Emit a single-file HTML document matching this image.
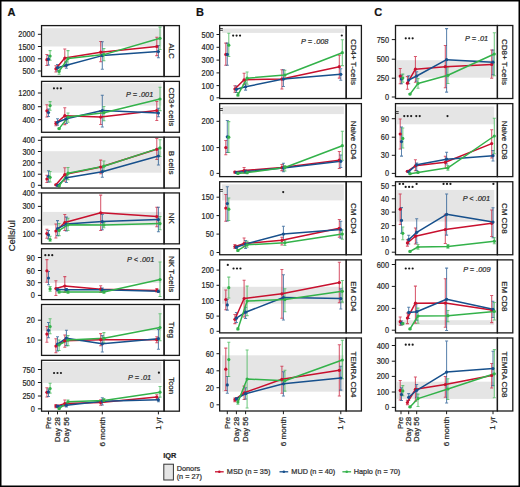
<!DOCTYPE html>
<html><head><meta charset="utf-8"><style>html,body{margin:0;padding:0;background:#fff;}svg{display:block;}text{font-family:'Liberation Sans',sans-serif;stroke:#2a2a2a;stroke-width:0.22px;stroke-linejoin:round;}</style></head>
<body><svg width="520" height="487" viewBox="0 0 520 487">
<rect x="0" y="0" width="520" height="487" fill="#fff"/>
<rect x="42.9" y="28.2" width="118.5" height="18.3" fill="#e5e5e5"/>
<clipPath id="cA0"><rect x="41.55" y="25.6" width="122.55" height="50.9"/></clipPath>
<g clip-path="url(#cA0)">
<path d="M46.9 54.4V65.4M45.4 54.4H48.4M45.4 65.4H48.4" stroke="#c8102e" stroke-opacity="0.7" stroke-width="1.05" fill="none"/>
<path d="M55.9 65.8V72M54.4 65.8H57.4M54.4 72H57.4" stroke="#c8102e" stroke-opacity="0.7" stroke-width="1.05" fill="none"/>
<path d="M64.8 49V66.6M63.3 49H66.3M63.3 66.6H66.3" stroke="#c8102e" stroke-opacity="0.7" stroke-width="1.05" fill="none"/>
<path d="M100.7 41.4V61.7M99.2 41.4H102.2M99.2 61.7H102.2" stroke="#c8102e" stroke-opacity="0.7" stroke-width="1.05" fill="none"/>
<path d="M156.8 37.3V55.6M155.3 37.3H158.3M155.3 55.6H158.3" stroke="#c8102e" stroke-opacity="0.7" stroke-width="1.05" fill="none"/>
<path d="M48.5 55.4V65M47 55.4H50M47 65H50" stroke="#17508c" stroke-opacity="0.7" stroke-width="1.05" fill="none"/>
<path d="M57.5 64.5V71M56 64.5H59M56 71H59" stroke="#17508c" stroke-opacity="0.7" stroke-width="1.05" fill="none"/>
<path d="M66.4 61.8V68.2M64.9 61.8H67.9M64.9 68.2H67.9" stroke="#17508c" stroke-opacity="0.7" stroke-width="1.05" fill="none"/>
<path d="M102.3 41.8V69.3M100.8 41.8H103.8M100.8 69.3H103.8" stroke="#17508c" stroke-opacity="0.7" stroke-width="1.05" fill="none"/>
<path d="M158.4 45.4V57.7M156.9 45.4H159.9M156.9 57.7H159.9" stroke="#17508c" stroke-opacity="0.7" stroke-width="1.05" fill="none"/>
<path d="M50.1 50.6V60.2M48.6 50.6H51.6M48.6 60.2H51.6" stroke="#33b24a" stroke-opacity="0.7" stroke-width="1.05" fill="none"/>
<path d="M59.1 68.2V74.3M57.6 68.2H60.6M57.6 74.3H60.6" stroke="#33b24a" stroke-opacity="0.7" stroke-width="1.05" fill="none"/>
<path d="M68 50.6V65M66.5 50.6H69.5M66.5 65H69.5" stroke="#33b24a" stroke-opacity="0.7" stroke-width="1.05" fill="none"/>
<path d="M103.9 48.5V60.7M102.4 48.5H105.4M102.4 60.7H105.4" stroke="#33b24a" stroke-opacity="0.7" stroke-width="1.05" fill="none"/>
<path d="M160 27.1V49.5M158.5 27.1H161.5M158.5 49.5H161.5" stroke="#33b24a" stroke-opacity="0.7" stroke-width="1.05" fill="none"/>
<polyline points="55.9,68.8 64.8,58.1 100.7,52.2 156.8,46.5" stroke="#c8102e" stroke-width="1.5" fill="none" stroke-linejoin="round"/>
<polyline points="57.5,67.7 66.4,65.3 102.3,55.6 158.4,51.6" stroke="#17508c" stroke-width="1.5" fill="none" stroke-linejoin="round"/>
<polyline points="59.1,71.4 68,58.5 103.9,54.6 160,38.3" stroke="#33b24a" stroke-width="1.5" fill="none" stroke-linejoin="round"/>
<circle cx="46.9" cy="59.7" r="1.6" fill="#c8102e"/>
<circle cx="55.9" cy="68.8" r="1.6" fill="#c8102e"/>
<circle cx="64.8" cy="58.1" r="1.6" fill="#c8102e"/>
<circle cx="100.7" cy="52.2" r="1.6" fill="#c8102e"/>
<circle cx="156.8" cy="46.5" r="1.6" fill="#c8102e"/>
<circle cx="48.5" cy="59.2" r="1.6" fill="#17508c"/>
<circle cx="57.5" cy="67.7" r="1.6" fill="#17508c"/>
<circle cx="66.4" cy="65.3" r="1.6" fill="#17508c"/>
<circle cx="102.3" cy="55.6" r="1.6" fill="#17508c"/>
<circle cx="158.4" cy="51.6" r="1.6" fill="#17508c"/>
<circle cx="50.1" cy="56" r="1.6" fill="#33b24a"/>
<circle cx="59.1" cy="71.4" r="1.6" fill="#33b24a"/>
<circle cx="68" cy="58.5" r="1.6" fill="#33b24a"/>
<circle cx="103.9" cy="54.6" r="1.6" fill="#33b24a"/>
<circle cx="160" cy="38.3" r="1.6" fill="#33b24a"/>
</g>
<rect x="41.55" y="25.6" width="122.55" height="50.9" fill="none" stroke="#1a1a1a" stroke-width="1.3"/>
<rect x="164.1" y="25.6" width="15.3" height="50.9" fill="none" stroke="#1a1a1a" stroke-width="1.3"/>
<text transform="translate(168.85,51.05) rotate(90)" font-size="8.0" text-anchor="middle" fill="#222" font-family="'Liberation Sans', sans-serif">ALC</text>
<path d="M37.9 34.3H41.55" stroke="#1a1a1a" stroke-width="1"/>
<text transform="translate(34.8,37.3) scale(0.86,1)" font-size="8.6" text-anchor="end" fill="#262626" font-family="'Liberation Sans', sans-serif">2000</text>
<path d="M37.9 46.5H41.55" stroke="#1a1a1a" stroke-width="1"/>
<text transform="translate(34.8,49.5) scale(0.86,1)" font-size="8.6" text-anchor="end" fill="#262626" font-family="'Liberation Sans', sans-serif">1500</text>
<path d="M37.9 58.8H41.55" stroke="#1a1a1a" stroke-width="1"/>
<text transform="translate(34.8,61.8) scale(0.86,1)" font-size="8.6" text-anchor="end" fill="#262626" font-family="'Liberation Sans', sans-serif">1000</text>
<path d="M37.9 71H41.55" stroke="#1a1a1a" stroke-width="1"/>
<text transform="translate(34.8,74) scale(0.86,1)" font-size="8.6" text-anchor="end" fill="#262626" font-family="'Liberation Sans', sans-serif">500</text>
<rect x="42.9" y="83.2" width="118.5" height="22.4" fill="#e5e5e5"/>
<clipPath id="cA1"><rect x="41.55" y="81.38" width="122.55" height="50.9"/></clipPath>
<g clip-path="url(#cA1)">
<path d="M46.9 104.7V116.9M45.4 104.7H48.4M45.4 116.9H48.4" stroke="#c8102e" stroke-opacity="0.7" stroke-width="1.05" fill="none"/>
<path d="M55.9 121.5V125.7M54.4 121.5H57.4M54.4 125.7H57.4" stroke="#c8102e" stroke-opacity="0.7" stroke-width="1.05" fill="none"/>
<path d="M64.8 107.7V124.6M63.3 107.7H66.3M63.3 124.6H66.3" stroke="#c8102e" stroke-opacity="0.7" stroke-width="1.05" fill="none"/>
<path d="M100.7 110.6V124.5M99.2 110.6H102.2M99.2 124.5H102.2" stroke="#c8102e" stroke-opacity="0.7" stroke-width="1.05" fill="none"/>
<path d="M156.8 101.4V120.4M155.3 101.4H158.3M155.3 120.4H158.3" stroke="#c8102e" stroke-opacity="0.7" stroke-width="1.05" fill="none"/>
<path d="M48.5 109V116.5M47 109H50M47 116.5H50" stroke="#17508c" stroke-opacity="0.7" stroke-width="1.05" fill="none"/>
<path d="M57.5 118.8V125.1M56 118.8H59M56 125.1H59" stroke="#17508c" stroke-opacity="0.7" stroke-width="1.05" fill="none"/>
<path d="M66.4 116.5V123.4M64.9 116.5H67.9M64.9 123.4H67.9" stroke="#17508c" stroke-opacity="0.7" stroke-width="1.05" fill="none"/>
<path d="M102.3 95.3V126.9M100.8 95.3H103.8M100.8 126.9H103.8" stroke="#17508c" stroke-opacity="0.7" stroke-width="1.05" fill="none"/>
<path d="M158.4 108.2V116.7M156.9 108.2H159.9M156.9 116.7H159.9" stroke="#17508c" stroke-opacity="0.7" stroke-width="1.05" fill="none"/>
<path d="M50.1 101.6V110.2M48.6 101.6H51.6M48.6 110.2H51.6" stroke="#33b24a" stroke-opacity="0.7" stroke-width="1.05" fill="none"/>
<path d="M59.1 128V129.2M57.6 128H60.6M57.6 129.2H60.6" stroke="#33b24a" stroke-opacity="0.7" stroke-width="1.05" fill="none"/>
<path d="M68 113V122.3M66.5 113H69.5M66.5 122.3H69.5" stroke="#33b24a" stroke-opacity="0.7" stroke-width="1.05" fill="none"/>
<path d="M103.9 106.5V120.8M102.4 106.5H105.4M102.4 120.8H105.4" stroke="#33b24a" stroke-opacity="0.7" stroke-width="1.05" fill="none"/>
<path d="M160 87.2V110.6M158.5 87.2H161.5M158.5 110.6H161.5" stroke="#33b24a" stroke-opacity="0.7" stroke-width="1.05" fill="none"/>
<polyline points="55.9,123.4 64.8,115.7 100.7,117.1 156.8,110.6" stroke="#c8102e" stroke-width="1.5" fill="none" stroke-linejoin="round"/>
<polyline points="57.5,122.3 66.4,118.8 102.3,110.6 158.4,113" stroke="#17508c" stroke-width="1.5" fill="none" stroke-linejoin="round"/>
<polyline points="59.1,128.6 68,117.1 103.9,112.7 160,99" stroke="#33b24a" stroke-width="1.5" fill="none" stroke-linejoin="round"/>
<circle cx="46.9" cy="110.8" r="1.6" fill="#c8102e"/>
<circle cx="55.9" cy="123.4" r="1.6" fill="#c8102e"/>
<circle cx="64.8" cy="115.7" r="1.6" fill="#c8102e"/>
<circle cx="100.7" cy="117.1" r="1.6" fill="#c8102e"/>
<circle cx="156.8" cy="110.6" r="1.6" fill="#c8102e"/>
<circle cx="48.5" cy="112.5" r="1.6" fill="#17508c"/>
<circle cx="57.5" cy="122.3" r="1.6" fill="#17508c"/>
<circle cx="66.4" cy="118.8" r="1.6" fill="#17508c"/>
<circle cx="102.3" cy="110.6" r="1.6" fill="#17508c"/>
<circle cx="158.4" cy="113" r="1.6" fill="#17508c"/>
<circle cx="50.1" cy="105.6" r="1.6" fill="#33b24a"/>
<circle cx="59.1" cy="128.6" r="1.6" fill="#33b24a"/>
<circle cx="68" cy="117.1" r="1.6" fill="#33b24a"/>
<circle cx="103.9" cy="112.7" r="1.6" fill="#33b24a"/>
<circle cx="160" cy="99" r="1.6" fill="#33b24a"/>
</g>
<circle cx="53.95" cy="88.3" r="1.1" fill="#1a1a1a"/>
<circle cx="57.4" cy="88.3" r="1.1" fill="#1a1a1a"/>
<circle cx="60.85" cy="88.3" r="1.1" fill="#1a1a1a"/>
<text transform="translate(153.3,97) scale(0.92,1)" font-size="8" font-style="italic" text-anchor="end" fill="#2a2a2a" font-family="'Liberation Sans', sans-serif">P = .001</text>
<rect x="41.55" y="81.38" width="122.55" height="50.9" fill="none" stroke="#1a1a1a" stroke-width="1.3"/>
<rect x="164.1" y="81.38" width="15.3" height="50.9" fill="none" stroke="#1a1a1a" stroke-width="1.3"/>
<text transform="translate(168.85,106.83) rotate(90)" font-size="8.0" text-anchor="middle" fill="#222" font-family="'Liberation Sans', sans-serif">CD3+ cells</text>
<path d="M37.9 93H41.55" stroke="#1a1a1a" stroke-width="1"/>
<text transform="translate(34.8,96) scale(0.86,1)" font-size="8.6" text-anchor="end" fill="#262626" font-family="'Liberation Sans', sans-serif">1200</text>
<path d="M37.9 106.7H41.55" stroke="#1a1a1a" stroke-width="1"/>
<text transform="translate(34.8,109.7) scale(0.86,1)" font-size="8.6" text-anchor="end" fill="#262626" font-family="'Liberation Sans', sans-serif">800</text>
<path d="M37.9 119.7H41.55" stroke="#1a1a1a" stroke-width="1"/>
<text transform="translate(34.8,122.7) scale(0.86,1)" font-size="8.6" text-anchor="end" fill="#262626" font-family="'Liberation Sans', sans-serif">400</text>
<rect x="42.9" y="151.2" width="118.5" height="21.5" fill="#e5e5e5"/>
<clipPath id="cA2"><rect x="41.55" y="137.16" width="122.55" height="50.9"/></clipPath>
<g clip-path="url(#cA2)">
<path d="M46.9 175.2V182.5M45.4 175.2H48.4M45.4 182.5H48.4" stroke="#c8102e" stroke-opacity="0.7" stroke-width="1.05" fill="none"/>
<path d="M55.9 184.3V185.3M54.4 184.3H57.4M54.4 185.3H57.4" stroke="#c8102e" stroke-opacity="0.7" stroke-width="1.05" fill="none"/>
<path d="M64.8 167.7V181.3M63.3 167.7H66.3M63.3 181.3H66.3" stroke="#c8102e" stroke-opacity="0.7" stroke-width="1.05" fill="none"/>
<path d="M100.7 160.1V173.7M99.2 160.1H102.2M99.2 173.7H102.2" stroke="#c8102e" stroke-opacity="0.7" stroke-width="1.05" fill="none"/>
<path d="M156.8 138.5V159.5M155.3 138.5H158.3M155.3 159.5H158.3" stroke="#c8102e" stroke-opacity="0.7" stroke-width="1.05" fill="none"/>
<path d="M48.5 170.7V181.9M47 170.7H50M47 181.9H50" stroke="#17508c" stroke-opacity="0.7" stroke-width="1.05" fill="none"/>
<path d="M57.5 185V186M56 185H59M56 186H59" stroke="#17508c" stroke-opacity="0.7" stroke-width="1.05" fill="none"/>
<path d="M66.4 175.5V182.5M64.9 175.5H67.9M64.9 182.5H67.9" stroke="#17508c" stroke-opacity="0.7" stroke-width="1.05" fill="none"/>
<path d="M102.3 166.6V177.2M100.8 166.6H103.8M100.8 177.2H103.8" stroke="#17508c" stroke-opacity="0.7" stroke-width="1.05" fill="none"/>
<path d="M158.4 148.3V165M156.9 148.3H159.9M156.9 165H159.9" stroke="#17508c" stroke-opacity="0.7" stroke-width="1.05" fill="none"/>
<path d="M50.1 171.5V181.9M48.6 171.5H51.6M48.6 181.9H51.6" stroke="#33b24a" stroke-opacity="0.7" stroke-width="1.05" fill="none"/>
<path d="M59.1 185.5V186.5M57.6 185.5H60.6M57.6 186.5H60.6" stroke="#33b24a" stroke-opacity="0.7" stroke-width="1.05" fill="none"/>
<path d="M68 167.5V179.6M66.5 167.5H69.5M66.5 179.6H69.5" stroke="#33b24a" stroke-opacity="0.7" stroke-width="1.05" fill="none"/>
<path d="M103.9 160.9V171.1M102.4 160.9H105.4M102.4 171.1H105.4" stroke="#33b24a" stroke-opacity="0.7" stroke-width="1.05" fill="none"/>
<path d="M160 139.7V156.4M158.5 139.7H161.5M158.5 156.4H161.5" stroke="#33b24a" stroke-opacity="0.7" stroke-width="1.05" fill="none"/>
<polyline points="55.9,184.8 64.8,174.6 100.7,167 156.8,149.3" stroke="#c8102e" stroke-width="1.5" fill="none" stroke-linejoin="round"/>
<polyline points="57.5,185.5 66.4,177.8 102.3,171.7 158.4,156" stroke="#17508c" stroke-width="1.5" fill="none" stroke-linejoin="round"/>
<polyline points="59.1,186 68,173.2 103.9,166.2 160,147.9" stroke="#33b24a" stroke-width="1.5" fill="none" stroke-linejoin="round"/>
<circle cx="46.9" cy="179" r="1.6" fill="#c8102e"/>
<circle cx="55.9" cy="184.8" r="1.6" fill="#c8102e"/>
<circle cx="64.8" cy="174.6" r="1.6" fill="#c8102e"/>
<circle cx="100.7" cy="167" r="1.6" fill="#c8102e"/>
<circle cx="156.8" cy="149.3" r="1.6" fill="#c8102e"/>
<circle cx="48.5" cy="176.5" r="1.6" fill="#17508c"/>
<circle cx="57.5" cy="185.5" r="1.6" fill="#17508c"/>
<circle cx="66.4" cy="177.8" r="1.6" fill="#17508c"/>
<circle cx="102.3" cy="171.7" r="1.6" fill="#17508c"/>
<circle cx="158.4" cy="156" r="1.6" fill="#17508c"/>
<circle cx="50.1" cy="177.3" r="1.6" fill="#33b24a"/>
<circle cx="59.1" cy="186" r="1.6" fill="#33b24a"/>
<circle cx="68" cy="173.2" r="1.6" fill="#33b24a"/>
<circle cx="103.9" cy="166.2" r="1.6" fill="#33b24a"/>
<circle cx="160" cy="147.9" r="1.6" fill="#33b24a"/>
</g>
<rect x="41.55" y="137.16" width="122.55" height="50.9" fill="none" stroke="#1a1a1a" stroke-width="1.3"/>
<rect x="164.1" y="137.16" width="15.3" height="50.9" fill="none" stroke="#1a1a1a" stroke-width="1.3"/>
<text transform="translate(168.85,162.61) rotate(90)" font-size="8.0" text-anchor="middle" fill="#222" font-family="'Liberation Sans', sans-serif">B cells</text>
<path d="M37.9 140.3H41.55" stroke="#1a1a1a" stroke-width="1"/>
<text transform="translate(34.8,143.3) scale(0.86,1)" font-size="8.6" text-anchor="end" fill="#262626" font-family="'Liberation Sans', sans-serif">400</text>
<path d="M37.9 151.5H41.55" stroke="#1a1a1a" stroke-width="1"/>
<text transform="translate(34.8,154.5) scale(0.86,1)" font-size="8.6" text-anchor="end" fill="#262626" font-family="'Liberation Sans', sans-serif">300</text>
<path d="M37.9 162.8H41.55" stroke="#1a1a1a" stroke-width="1"/>
<text transform="translate(34.8,165.8) scale(0.86,1)" font-size="8.6" text-anchor="end" fill="#262626" font-family="'Liberation Sans', sans-serif">200</text>
<path d="M37.9 174.2H41.55" stroke="#1a1a1a" stroke-width="1"/>
<text transform="translate(34.8,177.2) scale(0.86,1)" font-size="8.6" text-anchor="end" fill="#262626" font-family="'Liberation Sans', sans-serif">100</text>
<path d="M37.9 185.3H41.55" stroke="#1a1a1a" stroke-width="1"/>
<text transform="translate(34.8,188.3) scale(0.86,1)" font-size="8.6" text-anchor="end" fill="#262626" font-family="'Liberation Sans', sans-serif">0</text>
<rect x="42.9" y="211.9" width="118.5" height="13.6" fill="#e5e5e5"/>
<clipPath id="cA3"><rect x="41.55" y="192.94" width="122.55" height="50.9"/></clipPath>
<g clip-path="url(#cA3)">
<path d="M46.9 229.2V238.2M45.4 229.2H48.4M45.4 238.2H48.4" stroke="#c8102e" stroke-opacity="0.7" stroke-width="1.05" fill="none"/>
<path d="M55.9 224V237.9M54.4 224H57.4M54.4 237.9H57.4" stroke="#c8102e" stroke-opacity="0.7" stroke-width="1.05" fill="none"/>
<path d="M64.8 214.5V230.4M63.3 214.5H66.3M63.3 230.4H66.3" stroke="#c8102e" stroke-opacity="0.7" stroke-width="1.05" fill="none"/>
<path d="M100.7 195.1V230.4M99.2 195.1H102.2M99.2 230.4H102.2" stroke="#c8102e" stroke-opacity="0.7" stroke-width="1.05" fill="none"/>
<path d="M156.8 207.3V226.7M155.3 207.3H158.3M155.3 226.7H158.3" stroke="#c8102e" stroke-opacity="0.7" stroke-width="1.05" fill="none"/>
<path d="M48.5 230.4V239M47 230.4H50M47 239H50" stroke="#17508c" stroke-opacity="0.7" stroke-width="1.05" fill="none"/>
<path d="M57.5 220.6V235.6M56 220.6H59M56 235.6H59" stroke="#17508c" stroke-opacity="0.7" stroke-width="1.05" fill="none"/>
<path d="M66.4 217.1V231M64.9 217.1H67.9M64.9 231H67.9" stroke="#17508c" stroke-opacity="0.7" stroke-width="1.05" fill="none"/>
<path d="M102.3 214.5V229.7M100.8 214.5H103.8M100.8 229.7H103.8" stroke="#17508c" stroke-opacity="0.7" stroke-width="1.05" fill="none"/>
<path d="M158.4 207.3V231.8M156.9 207.3H159.9M156.9 231.8H159.9" stroke="#17508c" stroke-opacity="0.7" stroke-width="1.05" fill="none"/>
<path d="M50.1 236.2V241.3M48.6 236.2H51.6M48.6 241.3H51.6" stroke="#33b24a" stroke-opacity="0.7" stroke-width="1.05" fill="none"/>
<path d="M59.1 223.5V235.6M57.6 223.5H60.6M57.6 235.6H60.6" stroke="#33b24a" stroke-opacity="0.7" stroke-width="1.05" fill="none"/>
<path d="M68 218.3V230.4M66.5 218.3H69.5M66.5 230.4H69.5" stroke="#33b24a" stroke-opacity="0.7" stroke-width="1.05" fill="none"/>
<path d="M103.9 222.6V227.7M102.4 222.6H105.4M102.4 227.7H105.4" stroke="#33b24a" stroke-opacity="0.7" stroke-width="1.05" fill="none"/>
<path d="M160 216.5V229.7M158.5 216.5H161.5M158.5 229.7H161.5" stroke="#33b24a" stroke-opacity="0.7" stroke-width="1.05" fill="none"/>
<polyline points="55.9,231 64.8,222.5 100.7,212.8 156.8,216.5" stroke="#c8102e" stroke-width="1.5" fill="none" stroke-linejoin="round"/>
<polyline points="57.5,228.7 66.4,224.1 102.3,221.6 158.4,219.6" stroke="#17508c" stroke-width="1.5" fill="none" stroke-linejoin="round"/>
<polyline points="59.1,230.4 68,224.8 103.9,225 160,223.6" stroke="#33b24a" stroke-width="1.5" fill="none" stroke-linejoin="round"/>
<circle cx="46.9" cy="233.6" r="1.6" fill="#c8102e"/>
<circle cx="55.9" cy="231" r="1.6" fill="#c8102e"/>
<circle cx="64.8" cy="222.5" r="1.6" fill="#c8102e"/>
<circle cx="100.7" cy="212.8" r="1.6" fill="#c8102e"/>
<circle cx="156.8" cy="216.5" r="1.6" fill="#c8102e"/>
<circle cx="48.5" cy="234.8" r="1.6" fill="#17508c"/>
<circle cx="57.5" cy="228.7" r="1.6" fill="#17508c"/>
<circle cx="66.4" cy="224.1" r="1.6" fill="#17508c"/>
<circle cx="102.3" cy="221.6" r="1.6" fill="#17508c"/>
<circle cx="158.4" cy="219.6" r="1.6" fill="#17508c"/>
<circle cx="50.1" cy="239.6" r="1.6" fill="#33b24a"/>
<circle cx="59.1" cy="230.4" r="1.6" fill="#33b24a"/>
<circle cx="68" cy="224.8" r="1.6" fill="#33b24a"/>
<circle cx="103.9" cy="225" r="1.6" fill="#33b24a"/>
<circle cx="160" cy="223.6" r="1.6" fill="#33b24a"/>
</g>
<rect x="41.55" y="192.94" width="122.55" height="50.9" fill="none" stroke="#1a1a1a" stroke-width="1.3"/>
<rect x="164.1" y="192.94" width="15.3" height="50.9" fill="none" stroke="#1a1a1a" stroke-width="1.3"/>
<text transform="translate(168.85,218.39) rotate(90)" font-size="8.0" text-anchor="middle" fill="#222" font-family="'Liberation Sans', sans-serif">NK</text>
<path d="M37.9 192.9H41.55" stroke="#1a1a1a" stroke-width="1"/>
<text transform="translate(34.8,195.9) scale(0.86,1)" font-size="8.6" text-anchor="end" fill="#262626" font-family="'Liberation Sans', sans-serif">400</text>
<path d="M37.9 206.4H41.55" stroke="#1a1a1a" stroke-width="1"/>
<text transform="translate(34.8,209.4) scale(0.86,1)" font-size="8.6" text-anchor="end" fill="#262626" font-family="'Liberation Sans', sans-serif">300</text>
<path d="M37.9 220.2H41.55" stroke="#1a1a1a" stroke-width="1"/>
<text transform="translate(34.8,223.2) scale(0.86,1)" font-size="8.6" text-anchor="end" fill="#262626" font-family="'Liberation Sans', sans-serif">200</text>
<path d="M37.9 233.8H41.55" stroke="#1a1a1a" stroke-width="1"/>
<text transform="translate(34.8,236.8) scale(0.86,1)" font-size="8.6" text-anchor="end" fill="#262626" font-family="'Liberation Sans', sans-serif">100</text>
<rect x="42.9" y="250.2" width="118.5" height="32.8" fill="#e5e5e5"/>
<clipPath id="cA4"><rect x="41.55" y="248.72" width="122.55" height="50.9"/></clipPath>
<g clip-path="url(#cA4)">
<path d="M46.9 259.6V282.3M45.4 259.6H48.4M45.4 282.3H48.4" stroke="#c8102e" stroke-opacity="0.7" stroke-width="1.05" fill="none"/>
<path d="M55.9 280.8V295.4M54.4 280.8H57.4M54.4 295.4H57.4" stroke="#c8102e" stroke-opacity="0.7" stroke-width="1.05" fill="none"/>
<path d="M64.8 276.6V292.5M63.3 276.6H66.3M63.3 292.5H66.3" stroke="#c8102e" stroke-opacity="0.7" stroke-width="1.05" fill="none"/>
<path d="M100.7 285.7V292.5M99.2 285.7H102.2M99.2 292.5H102.2" stroke="#c8102e" stroke-opacity="0.7" stroke-width="1.05" fill="none"/>
<path d="M156.8 288.4V291.9M155.3 288.4H158.3M155.3 291.9H158.3" stroke="#c8102e" stroke-opacity="0.7" stroke-width="1.05" fill="none"/>
<path d="M48.5 271.4V284.7M47 271.4H50M47 284.7H50" stroke="#17508c" stroke-opacity="0.7" stroke-width="1.05" fill="none"/>
<path d="M57.5 288V291M56 288H59M56 291H59" stroke="#17508c" stroke-opacity="0.7" stroke-width="1.05" fill="none"/>
<path d="M66.4 288.5V291M64.9 288.5H67.9M64.9 291H67.9" stroke="#17508c" stroke-opacity="0.7" stroke-width="1.05" fill="none"/>
<path d="M102.3 288V291.5M100.8 288H103.8M100.8 291.5H103.8" stroke="#17508c" stroke-opacity="0.7" stroke-width="1.05" fill="none"/>
<path d="M158.4 290V292.5M156.9 290H159.9M156.9 292.5H159.9" stroke="#17508c" stroke-opacity="0.7" stroke-width="1.05" fill="none"/>
<path d="M50.1 286.4V291.2M48.6 286.4H51.6M48.6 291.2H51.6" stroke="#33b24a" stroke-opacity="0.7" stroke-width="1.05" fill="none"/>
<path d="M59.1 290.5V293M57.6 290.5H60.6M57.6 293H60.6" stroke="#33b24a" stroke-opacity="0.7" stroke-width="1.05" fill="none"/>
<path d="M68 290.8V293.2M66.5 290.8H69.5M66.5 293.2H69.5" stroke="#33b24a" stroke-opacity="0.7" stroke-width="1.05" fill="none"/>
<path d="M103.9 290.5V293.2M102.4 290.5H105.4M102.4 293.2H105.4" stroke="#33b24a" stroke-opacity="0.7" stroke-width="1.05" fill="none"/>
<path d="M160 261.9V296.5M158.5 261.9H161.5M158.5 296.5H161.5" stroke="#33b24a" stroke-opacity="0.7" stroke-width="1.05" fill="none"/>
<polyline points="55.9,288.5 64.8,286 100.7,289.2 156.8,290.4" stroke="#c8102e" stroke-width="1.5" fill="none" stroke-linejoin="round"/>
<polyline points="57.5,289.6 66.4,289.7 102.3,289.8 158.4,291.3" stroke="#17508c" stroke-width="1.5" fill="none" stroke-linejoin="round"/>
<polyline points="59.1,291.9 68,292 103.9,291.9 160,279.6" stroke="#33b24a" stroke-width="1.5" fill="none" stroke-linejoin="round"/>
<circle cx="46.9" cy="270.8" r="1.6" fill="#c8102e"/>
<circle cx="55.9" cy="288.5" r="1.6" fill="#c8102e"/>
<circle cx="64.8" cy="286" r="1.6" fill="#c8102e"/>
<circle cx="100.7" cy="289.2" r="1.6" fill="#c8102e"/>
<circle cx="156.8" cy="290.4" r="1.6" fill="#c8102e"/>
<circle cx="48.5" cy="278" r="1.6" fill="#17508c"/>
<circle cx="57.5" cy="289.6" r="1.6" fill="#17508c"/>
<circle cx="66.4" cy="289.7" r="1.6" fill="#17508c"/>
<circle cx="102.3" cy="289.8" r="1.6" fill="#17508c"/>
<circle cx="158.4" cy="291.3" r="1.6" fill="#17508c"/>
<circle cx="50.1" cy="288.9" r="1.6" fill="#33b24a"/>
<circle cx="59.1" cy="291.9" r="1.6" fill="#33b24a"/>
<circle cx="68" cy="292" r="1.6" fill="#33b24a"/>
<circle cx="103.9" cy="291.9" r="1.6" fill="#33b24a"/>
<circle cx="160" cy="279.6" r="1.6" fill="#33b24a"/>
</g>
<circle cx="45.35" cy="255.2" r="1.1" fill="#1a1a1a"/>
<circle cx="48.8" cy="255.2" r="1.1" fill="#1a1a1a"/>
<circle cx="52.25" cy="255.2" r="1.1" fill="#1a1a1a"/>
<text transform="translate(154.3,261.5) scale(0.92,1)" font-size="8" font-style="italic" text-anchor="end" fill="#2a2a2a" font-family="'Liberation Sans', sans-serif">P &lt; .001</text>
<rect x="41.55" y="248.72" width="122.55" height="50.9" fill="none" stroke="#1a1a1a" stroke-width="1.3"/>
<rect x="164.1" y="248.72" width="15.3" height="50.9" fill="none" stroke="#1a1a1a" stroke-width="1.3"/>
<text transform="translate(168.85,274.17) rotate(90)" font-size="8.0" text-anchor="middle" fill="#222" font-family="'Liberation Sans', sans-serif">NK T-cells</text>
<path d="M37.9 257.5H41.55" stroke="#1a1a1a" stroke-width="1"/>
<text transform="translate(34.8,260.5) scale(0.86,1)" font-size="8.6" text-anchor="end" fill="#262626" font-family="'Liberation Sans', sans-serif">90</text>
<path d="M37.9 270.5H41.55" stroke="#1a1a1a" stroke-width="1"/>
<text transform="translate(34.8,273.5) scale(0.86,1)" font-size="8.6" text-anchor="end" fill="#262626" font-family="'Liberation Sans', sans-serif">60</text>
<path d="M37.9 282.7H41.55" stroke="#1a1a1a" stroke-width="1"/>
<text transform="translate(34.8,285.7) scale(0.86,1)" font-size="8.6" text-anchor="end" fill="#262626" font-family="'Liberation Sans', sans-serif">30</text>
<path d="M37.9 295.4H41.55" stroke="#1a1a1a" stroke-width="1"/>
<text transform="translate(34.8,298.4) scale(0.86,1)" font-size="8.6" text-anchor="end" fill="#262626" font-family="'Liberation Sans', sans-serif">0</text>
<rect x="42.9" y="306.3" width="118.5" height="24.4" fill="#e5e5e5"/>
<clipPath id="cA5"><rect x="41.55" y="304.5" width="122.55" height="50.9"/></clipPath>
<g clip-path="url(#cA5)">
<path d="M46.9 326.5V342.2M45.4 326.5H48.4M45.4 342.2H48.4" stroke="#c8102e" stroke-opacity="0.7" stroke-width="1.05" fill="none"/>
<path d="M55.9 338.7V352.8M54.4 338.7H57.4M54.4 352.8H57.4" stroke="#c8102e" stroke-opacity="0.7" stroke-width="1.05" fill="none"/>
<path d="M64.8 334.9V347.2M63.3 334.9H66.3M63.3 347.2H66.3" stroke="#c8102e" stroke-opacity="0.7" stroke-width="1.05" fill="none"/>
<path d="M100.7 333.6V345.8M99.2 333.6H102.2M99.2 345.8H102.2" stroke="#c8102e" stroke-opacity="0.7" stroke-width="1.05" fill="none"/>
<path d="M156.8 336.7V342.8M155.3 336.7H158.3M155.3 342.8H158.3" stroke="#c8102e" stroke-opacity="0.7" stroke-width="1.05" fill="none"/>
<path d="M48.5 322.5V337.8M47 322.5H50M47 337.8H50" stroke="#17508c" stroke-opacity="0.7" stroke-width="1.05" fill="none"/>
<path d="M57.5 336.8V351M56 336.8H59M56 351H59" stroke="#17508c" stroke-opacity="0.7" stroke-width="1.05" fill="none"/>
<path d="M66.4 330.3V345.6M64.9 330.3H67.9M64.9 345.6H67.9" stroke="#17508c" stroke-opacity="0.7" stroke-width="1.05" fill="none"/>
<path d="M102.3 335.6V352M100.8 335.6H103.8M100.8 352H103.8" stroke="#17508c" stroke-opacity="0.7" stroke-width="1.05" fill="none"/>
<path d="M158.4 329.5V349.3M156.9 329.5H159.9M156.9 349.3H159.9" stroke="#17508c" stroke-opacity="0.7" stroke-width="1.05" fill="none"/>
<path d="M50.1 318.7V333.7M48.6 318.7H51.6M48.6 333.7H51.6" stroke="#33b24a" stroke-opacity="0.7" stroke-width="1.05" fill="none"/>
<path d="M59.1 340V350.5M57.6 340H60.6M57.6 350.5H60.6" stroke="#33b24a" stroke-opacity="0.7" stroke-width="1.05" fill="none"/>
<path d="M68 335.5V345.6M66.5 335.5H69.5M66.5 345.6H69.5" stroke="#33b24a" stroke-opacity="0.7" stroke-width="1.05" fill="none"/>
<path d="M103.9 332.6V342.8M102.4 332.6H105.4M102.4 342.8H105.4" stroke="#33b24a" stroke-opacity="0.7" stroke-width="1.05" fill="none"/>
<path d="M160 313.8V340.7M158.5 313.8H161.5M158.5 340.7H161.5" stroke="#33b24a" stroke-opacity="0.7" stroke-width="1.05" fill="none"/>
<polyline points="55.9,346.1 64.8,340.8 100.7,339.7 156.8,339.7" stroke="#c8102e" stroke-width="1.5" fill="none" stroke-linejoin="round"/>
<polyline points="57.5,344.1 66.4,338.2 102.3,343.8 158.4,338.7" stroke="#17508c" stroke-width="1.5" fill="none" stroke-linejoin="round"/>
<polyline points="59.1,344.9 68,340 103.9,338.3 160,327.5" stroke="#33b24a" stroke-width="1.5" fill="none" stroke-linejoin="round"/>
<circle cx="46.9" cy="334.1" r="1.6" fill="#c8102e"/>
<circle cx="55.9" cy="346.1" r="1.6" fill="#c8102e"/>
<circle cx="64.8" cy="340.8" r="1.6" fill="#c8102e"/>
<circle cx="100.7" cy="339.7" r="1.6" fill="#c8102e"/>
<circle cx="156.8" cy="339.7" r="1.6" fill="#c8102e"/>
<circle cx="48.5" cy="330.3" r="1.6" fill="#17508c"/>
<circle cx="57.5" cy="344.1" r="1.6" fill="#17508c"/>
<circle cx="66.4" cy="338.2" r="1.6" fill="#17508c"/>
<circle cx="102.3" cy="343.8" r="1.6" fill="#17508c"/>
<circle cx="158.4" cy="338.7" r="1.6" fill="#17508c"/>
<circle cx="50.1" cy="326.5" r="1.6" fill="#33b24a"/>
<circle cx="59.1" cy="344.9" r="1.6" fill="#33b24a"/>
<circle cx="68" cy="340" r="1.6" fill="#33b24a"/>
<circle cx="103.9" cy="338.3" r="1.6" fill="#33b24a"/>
<circle cx="160" cy="327.5" r="1.6" fill="#33b24a"/>
</g>
<rect x="41.55" y="304.5" width="122.55" height="50.9" fill="none" stroke="#1a1a1a" stroke-width="1.3"/>
<rect x="164.1" y="304.5" width="15.3" height="50.9" fill="none" stroke="#1a1a1a" stroke-width="1.3"/>
<text transform="translate(168.85,329.95) rotate(90)" font-size="8.0" text-anchor="middle" fill="#222" font-family="'Liberation Sans', sans-serif">Treg</text>
<path d="M37.9 320.2H41.55" stroke="#1a1a1a" stroke-width="1"/>
<text transform="translate(34.8,323.2) scale(0.86,1)" font-size="8.6" text-anchor="end" fill="#262626" font-family="'Liberation Sans', sans-serif">20</text>
<path d="M37.9 340.1H41.55" stroke="#1a1a1a" stroke-width="1"/>
<text transform="translate(34.8,343.1) scale(0.86,1)" font-size="8.6" text-anchor="end" fill="#262626" font-family="'Liberation Sans', sans-serif">10</text>
<rect x="42.9" y="362" width="118.5" height="21" fill="#e5e5e5"/>
<clipPath id="cA6"><rect x="41.55" y="360.28" width="122.55" height="50.9"/></clipPath>
<g clip-path="url(#cA6)">
<path d="M46.9 387.7V396.9M45.4 387.7H48.4M45.4 396.9H48.4" stroke="#c8102e" stroke-opacity="0.7" stroke-width="1.05" fill="none"/>
<path d="M55.9 404.6V407.7M54.4 404.6H57.4M54.4 407.7H57.4" stroke="#c8102e" stroke-opacity="0.7" stroke-width="1.05" fill="none"/>
<path d="M64.8 400V406M63.3 400H66.3M63.3 406H66.3" stroke="#c8102e" stroke-opacity="0.7" stroke-width="1.05" fill="none"/>
<path d="M100.7 399.8V405.3M99.2 399.8H102.2M99.2 405.3H102.2" stroke="#c8102e" stroke-opacity="0.7" stroke-width="1.05" fill="none"/>
<path d="M156.8 394.7V399.8M155.3 394.7H158.3M155.3 399.8H158.3" stroke="#c8102e" stroke-opacity="0.7" stroke-width="1.05" fill="none"/>
<path d="M48.5 389V396.5M47 389H50M47 396.5H50" stroke="#17508c" stroke-opacity="0.7" stroke-width="1.05" fill="none"/>
<path d="M57.5 405V407.5M56 405H59M56 407.5H59" stroke="#17508c" stroke-opacity="0.7" stroke-width="1.05" fill="none"/>
<path d="M66.4 403.5V407M64.9 403.5H67.9M64.9 407H67.9" stroke="#17508c" stroke-opacity="0.7" stroke-width="1.05" fill="none"/>
<path d="M102.3 397.7V404.9M100.8 397.7H103.8M100.8 404.9H103.8" stroke="#17508c" stroke-opacity="0.7" stroke-width="1.05" fill="none"/>
<path d="M158.4 397.7V401.8M156.9 397.7H159.9M156.9 401.8H159.9" stroke="#17508c" stroke-opacity="0.7" stroke-width="1.05" fill="none"/>
<path d="M50.1 383.3V393.1M48.6 383.3H51.6M48.6 393.1H51.6" stroke="#33b24a" stroke-opacity="0.7" stroke-width="1.05" fill="none"/>
<path d="M59.1 408V409.2M57.6 408H60.6M57.6 409.2H60.6" stroke="#33b24a" stroke-opacity="0.7" stroke-width="1.05" fill="none"/>
<path d="M68 400V404.6M66.5 400H69.5M66.5 404.6H69.5" stroke="#33b24a" stroke-opacity="0.7" stroke-width="1.05" fill="none"/>
<path d="M103.9 398.5V402.5M102.4 398.5H105.4M102.4 402.5H105.4" stroke="#33b24a" stroke-opacity="0.7" stroke-width="1.05" fill="none"/>
<path d="M160 386.5V397.1M158.5 386.5H161.5M158.5 397.1H161.5" stroke="#33b24a" stroke-opacity="0.7" stroke-width="1.05" fill="none"/>
<polyline points="55.9,406.1 64.8,403.6 100.7,402.4 156.8,397.1" stroke="#c8102e" stroke-width="1.5" fill="none" stroke-linejoin="round"/>
<polyline points="57.5,406.3 66.4,405.2 102.3,401.2 158.4,399.8" stroke="#17508c" stroke-width="1.5" fill="none" stroke-linejoin="round"/>
<polyline points="59.1,408.6 68,401.8 103.9,400.4 160,392.2" stroke="#33b24a" stroke-width="1.5" fill="none" stroke-linejoin="round"/>
<circle cx="46.9" cy="392.3" r="1.6" fill="#c8102e"/>
<circle cx="55.9" cy="406.1" r="1.6" fill="#c8102e"/>
<circle cx="64.8" cy="403.6" r="1.6" fill="#c8102e"/>
<circle cx="100.7" cy="402.4" r="1.6" fill="#c8102e"/>
<circle cx="156.8" cy="397.1" r="1.6" fill="#c8102e"/>
<circle cx="48.5" cy="391.9" r="1.6" fill="#17508c"/>
<circle cx="57.5" cy="406.3" r="1.6" fill="#17508c"/>
<circle cx="66.4" cy="405.2" r="1.6" fill="#17508c"/>
<circle cx="102.3" cy="401.2" r="1.6" fill="#17508c"/>
<circle cx="158.4" cy="399.8" r="1.6" fill="#17508c"/>
<circle cx="50.1" cy="388.5" r="1.6" fill="#33b24a"/>
<circle cx="59.1" cy="408.6" r="1.6" fill="#33b24a"/>
<circle cx="68" cy="401.8" r="1.6" fill="#33b24a"/>
<circle cx="103.9" cy="400.4" r="1.6" fill="#33b24a"/>
<circle cx="160" cy="392.2" r="1.6" fill="#33b24a"/>
</g>
<circle cx="54.05" cy="373" r="1.1" fill="#1a1a1a"/>
<circle cx="57.5" cy="373" r="1.1" fill="#1a1a1a"/>
<circle cx="60.95" cy="373" r="1.1" fill="#1a1a1a"/>
<text transform="translate(151.2,380.2) scale(0.92,1)" font-size="8" font-style="italic" text-anchor="end" fill="#2a2a2a" font-family="'Liberation Sans', sans-serif">P = .01</text>
<circle cx="158.9" cy="372.7" r="1.1" fill="#1a1a1a"/>
<rect x="41.55" y="360.28" width="122.55" height="50.9" fill="none" stroke="#1a1a1a" stroke-width="1.3"/>
<rect x="164.1" y="360.28" width="15.3" height="50.9" fill="none" stroke="#1a1a1a" stroke-width="1.3"/>
<text transform="translate(168.85,385.73) rotate(90)" font-size="8.0" text-anchor="middle" fill="#222" font-family="'Liberation Sans', sans-serif">Tcon</text>
<path d="M37.9 369.5H41.55" stroke="#1a1a1a" stroke-width="1"/>
<text transform="translate(34.8,372.5) scale(0.86,1)" font-size="8.6" text-anchor="end" fill="#262626" font-family="'Liberation Sans', sans-serif">750</text>
<path d="M37.9 382.5H41.55" stroke="#1a1a1a" stroke-width="1"/>
<text transform="translate(34.8,385.5) scale(0.86,1)" font-size="8.6" text-anchor="end" fill="#262626" font-family="'Liberation Sans', sans-serif">500</text>
<path d="M37.9 396H41.55" stroke="#1a1a1a" stroke-width="1"/>
<text transform="translate(34.8,399) scale(0.86,1)" font-size="8.6" text-anchor="end" fill="#262626" font-family="'Liberation Sans', sans-serif">250</text>
<path d="M37.9 408.8H41.55" stroke="#1a1a1a" stroke-width="1"/>
<text transform="translate(34.8,411.8) scale(0.86,1)" font-size="8.6" text-anchor="end" fill="#262626" font-family="'Liberation Sans', sans-serif">0</text>
<rect x="222" y="28.5" width="121.8" height="4.4" fill="#e5e5e5"/>
<clipPath id="cB0"><rect x="219.65" y="25.5" width="126.55" height="73"/></clipPath>
<g clip-path="url(#cB0)">
<path d="M225.8 43.1V65.2M224.3 43.1H227.3M224.3 65.2H227.3" stroke="#c8102e" stroke-opacity="0.7" stroke-width="1.05" fill="none"/>
<path d="M234.9 85.8V92.2M233.4 85.8H236.4M233.4 92.2H236.4" stroke="#c8102e" stroke-opacity="0.7" stroke-width="1.05" fill="none"/>
<path d="M244.1 73.3V84.5M242.6 73.3H245.6M242.6 84.5H245.6" stroke="#c8102e" stroke-opacity="0.7" stroke-width="1.05" fill="none"/>
<path d="M281.9 69.8V88.9M280.4 69.8H283.4M280.4 88.9H283.4" stroke="#c8102e" stroke-opacity="0.7" stroke-width="1.05" fill="none"/>
<path d="M339.3 55.2V78.1M337.8 55.2H340.8M337.8 78.1H340.8" stroke="#c8102e" stroke-opacity="0.7" stroke-width="1.05" fill="none"/>
<path d="M227.3 43.1V65.2M225.8 43.1H228.8M225.8 65.2H228.8" stroke="#17508c" stroke-opacity="0.7" stroke-width="1.05" fill="none"/>
<path d="M236.4 86V92.5M234.9 86H237.9M234.9 92.5H237.9" stroke="#17508c" stroke-opacity="0.7" stroke-width="1.05" fill="none"/>
<path d="M245.6 82.9V90.1M244.1 82.9H247.1M244.1 90.1H247.1" stroke="#17508c" stroke-opacity="0.7" stroke-width="1.05" fill="none"/>
<path d="M283.4 69.8V86.4M281.9 69.8H284.9M281.9 86.4H284.9" stroke="#17508c" stroke-opacity="0.7" stroke-width="1.05" fill="none"/>
<path d="M340.8 68.7V80.2M339.3 68.7H342.3M339.3 80.2H342.3" stroke="#17508c" stroke-opacity="0.7" stroke-width="1.05" fill="none"/>
<path d="M228.8 33.2V56.4M227.3 33.2H230.3M227.3 56.4H230.3" stroke="#33b24a" stroke-opacity="0.7" stroke-width="1.05" fill="none"/>
<path d="M237.9 92.5V96M236.4 92.5H239.4M236.4 96H239.4" stroke="#33b24a" stroke-opacity="0.7" stroke-width="1.05" fill="none"/>
<path d="M247.1 72V84.2M245.6 72H248.6M245.6 84.2H248.6" stroke="#33b24a" stroke-opacity="0.7" stroke-width="1.05" fill="none"/>
<path d="M284.9 70.2V79.1M283.4 70.2H286.4M283.4 79.1H286.4" stroke="#33b24a" stroke-opacity="0.7" stroke-width="1.05" fill="none"/>
<path d="M342.3 39.7V65.6M340.8 39.7H343.8M340.8 65.6H343.8" stroke="#33b24a" stroke-opacity="0.7" stroke-width="1.05" fill="none"/>
<polyline points="234.9,89 244.1,79.8 281.9,79.1 339.3,66.7" stroke="#c8102e" stroke-width="1.5" fill="none" stroke-linejoin="round"/>
<polyline points="236.4,89.3 245.6,86.8 283.4,79.1 340.8,74.3" stroke="#17508c" stroke-width="1.5" fill="none" stroke-linejoin="round"/>
<polyline points="237.9,94.9 247.1,78.2 284.9,75 342.3,52.7" stroke="#33b24a" stroke-width="1.5" fill="none" stroke-linejoin="round"/>
<circle cx="225.8" cy="54.4" r="1.6" fill="#c8102e"/>
<circle cx="234.9" cy="89" r="1.6" fill="#c8102e"/>
<circle cx="244.1" cy="79.8" r="1.6" fill="#c8102e"/>
<circle cx="281.9" cy="79.1" r="1.6" fill="#c8102e"/>
<circle cx="339.3" cy="66.7" r="1.6" fill="#c8102e"/>
<circle cx="227.3" cy="54.4" r="1.6" fill="#17508c"/>
<circle cx="236.4" cy="89.3" r="1.6" fill="#17508c"/>
<circle cx="245.6" cy="86.8" r="1.6" fill="#17508c"/>
<circle cx="283.4" cy="79.1" r="1.6" fill="#17508c"/>
<circle cx="340.8" cy="74.3" r="1.6" fill="#17508c"/>
<circle cx="228.8" cy="45.2" r="1.6" fill="#33b24a"/>
<circle cx="237.9" cy="94.9" r="1.6" fill="#33b24a"/>
<circle cx="247.1" cy="78.2" r="1.6" fill="#33b24a"/>
<circle cx="284.9" cy="75" r="1.6" fill="#33b24a"/>
<circle cx="342.3" cy="52.7" r="1.6" fill="#33b24a"/>
</g>
<circle cx="233.15" cy="35.6" r="1.1" fill="#1a1a1a"/>
<circle cx="236.6" cy="35.6" r="1.1" fill="#1a1a1a"/>
<circle cx="240.05" cy="35.6" r="1.1" fill="#1a1a1a"/>
<text transform="translate(328.4,44.1) scale(0.92,1)" font-size="8" font-style="italic" text-anchor="end" fill="#2a2a2a" font-family="'Liberation Sans', sans-serif">P = .008</text>
<circle cx="341.8" cy="35.5" r="1.1" fill="#1a1a1a"/>
<rect x="219.65" y="25.5" width="126.55" height="73" fill="none" stroke="#1a1a1a" stroke-width="1.3"/>
<rect x="346.2" y="25.5" width="15.2" height="73" fill="none" stroke="#1a1a1a" stroke-width="1.3"/>
<text transform="translate(350.9,62) rotate(90)" font-size="8.0" text-anchor="middle" fill="#222" font-family="'Liberation Sans', sans-serif">CD4+ T-cells</text>
<path d="M216.5 34.5H219.65" stroke="#1a1a1a" stroke-width="1"/>
<text transform="translate(213.9,37.5) scale(0.86,1)" font-size="8.6" text-anchor="end" fill="#262626" font-family="'Liberation Sans', sans-serif">500</text>
<path d="M216.5 47.3H219.65" stroke="#1a1a1a" stroke-width="1"/>
<text transform="translate(213.9,50.3) scale(0.86,1)" font-size="8.6" text-anchor="end" fill="#262626" font-family="'Liberation Sans', sans-serif">400</text>
<path d="M216.5 60.1H219.65" stroke="#1a1a1a" stroke-width="1"/>
<text transform="translate(213.9,63.1) scale(0.86,1)" font-size="8.6" text-anchor="end" fill="#262626" font-family="'Liberation Sans', sans-serif">300</text>
<path d="M216.5 72.9H219.65" stroke="#1a1a1a" stroke-width="1"/>
<text transform="translate(213.9,75.9) scale(0.86,1)" font-size="8.6" text-anchor="end" fill="#262626" font-family="'Liberation Sans', sans-serif">200</text>
<path d="M216.5 85.6H219.65" stroke="#1a1a1a" stroke-width="1"/>
<text transform="translate(213.9,88.6) scale(0.86,1)" font-size="8.6" text-anchor="end" fill="#262626" font-family="'Liberation Sans', sans-serif">100</text>
<path d="M216.5 97.8H219.65" stroke="#1a1a1a" stroke-width="1"/>
<text transform="translate(213.9,100.8) scale(0.86,1)" font-size="8.6" text-anchor="end" fill="#262626" font-family="'Liberation Sans', sans-serif">0</text>
<rect x="222" y="106.3" width="121.8" height="7.8" fill="#e5e5e5"/>
<clipPath id="cB1"><rect x="219.65" y="103.62" width="126.55" height="73"/></clipPath>
<g clip-path="url(#cB1)">
<path d="M225.8 140.4V154.8M224.3 140.4H227.3M224.3 154.8H227.3" stroke="#c8102e" stroke-opacity="0.7" stroke-width="1.05" fill="none"/>
<path d="M234.9 171.3V172.9M233.4 171.3H236.4M233.4 172.9H236.4" stroke="#c8102e" stroke-opacity="0.7" stroke-width="1.05" fill="none"/>
<path d="M244.1 167.5V173.1M242.6 167.5H245.6M242.6 173.1H245.6" stroke="#c8102e" stroke-opacity="0.7" stroke-width="1.05" fill="none"/>
<path d="M281.9 164.4V170.6M280.4 164.4H283.4M280.4 170.6H283.4" stroke="#c8102e" stroke-opacity="0.7" stroke-width="1.05" fill="none"/>
<path d="M339.3 151.5V168.5M337.8 151.5H340.8M337.8 168.5H340.8" stroke="#c8102e" stroke-opacity="0.7" stroke-width="1.05" fill="none"/>
<path d="M227.3 120.5V152.5M225.8 120.5H228.8M225.8 152.5H228.8" stroke="#17508c" stroke-opacity="0.7" stroke-width="1.05" fill="none"/>
<path d="M236.4 171.8V173.2M234.9 171.8H237.9M234.9 173.2H237.9" stroke="#17508c" stroke-opacity="0.7" stroke-width="1.05" fill="none"/>
<path d="M245.6 170V173M244.1 170H247.1M244.1 173H247.1" stroke="#17508c" stroke-opacity="0.7" stroke-width="1.05" fill="none"/>
<path d="M283.4 163.3V171.7M281.9 163.3H284.9M281.9 171.7H284.9" stroke="#17508c" stroke-opacity="0.7" stroke-width="1.05" fill="none"/>
<path d="M340.8 155V167.5M339.3 155H342.3M339.3 167.5H342.3" stroke="#17508c" stroke-opacity="0.7" stroke-width="1.05" fill="none"/>
<path d="M228.8 121.6V152.5M227.3 121.6H230.3M227.3 152.5H230.3" stroke="#33b24a" stroke-opacity="0.7" stroke-width="1.05" fill="none"/>
<path d="M237.9 172.8V174M236.4 172.8H239.4M236.4 174H239.4" stroke="#33b24a" stroke-opacity="0.7" stroke-width="1.05" fill="none"/>
<path d="M247.1 171.5V173.6M245.6 171.5H248.6M245.6 173.6H248.6" stroke="#33b24a" stroke-opacity="0.7" stroke-width="1.05" fill="none"/>
<path d="M284.9 165.4V171M283.4 165.4H286.4M283.4 171H286.4" stroke="#33b24a" stroke-opacity="0.7" stroke-width="1.05" fill="none"/>
<path d="M342.3 131.2V160.2M340.8 131.2H343.8M340.8 160.2H343.8" stroke="#33b24a" stroke-opacity="0.7" stroke-width="1.05" fill="none"/>
<polyline points="234.9,172.1 244.1,170.6 281.9,167.5 339.3,160.2" stroke="#c8102e" stroke-width="1.5" fill="none" stroke-linejoin="round"/>
<polyline points="236.4,172.5 245.6,171.6 283.4,168.1 340.8,161.3" stroke="#17508c" stroke-width="1.5" fill="none" stroke-linejoin="round"/>
<polyline points="237.9,173.4 247.1,172.6 284.9,167.5 342.3,145.7" stroke="#33b24a" stroke-width="1.5" fill="none" stroke-linejoin="round"/>
<circle cx="225.8" cy="147.6" r="1.6" fill="#c8102e"/>
<circle cx="234.9" cy="172.1" r="1.6" fill="#c8102e"/>
<circle cx="244.1" cy="170.6" r="1.6" fill="#c8102e"/>
<circle cx="281.9" cy="167.5" r="1.6" fill="#c8102e"/>
<circle cx="339.3" cy="160.2" r="1.6" fill="#c8102e"/>
<circle cx="227.3" cy="136.8" r="1.6" fill="#17508c"/>
<circle cx="236.4" cy="172.5" r="1.6" fill="#17508c"/>
<circle cx="245.6" cy="171.6" r="1.6" fill="#17508c"/>
<circle cx="283.4" cy="168.1" r="1.6" fill="#17508c"/>
<circle cx="340.8" cy="161.3" r="1.6" fill="#17508c"/>
<circle cx="228.8" cy="137.2" r="1.6" fill="#33b24a"/>
<circle cx="237.9" cy="173.4" r="1.6" fill="#33b24a"/>
<circle cx="247.1" cy="172.6" r="1.6" fill="#33b24a"/>
<circle cx="284.9" cy="167.5" r="1.6" fill="#33b24a"/>
<circle cx="342.3" cy="145.7" r="1.6" fill="#33b24a"/>
</g>
<rect x="219.65" y="103.62" width="126.55" height="73" fill="none" stroke="#1a1a1a" stroke-width="1.3"/>
<rect x="346.2" y="103.62" width="15.2" height="73" fill="none" stroke="#1a1a1a" stroke-width="1.3"/>
<text transform="translate(350.9,140.12) rotate(90)" font-size="8.0" text-anchor="middle" fill="#222" font-family="'Liberation Sans', sans-serif">Naive CD4</text>
<path d="M216.5 121.3H219.65" stroke="#1a1a1a" stroke-width="1"/>
<text transform="translate(213.9,124.3) scale(0.86,1)" font-size="8.6" text-anchor="end" fill="#262626" font-family="'Liberation Sans', sans-serif">200</text>
<path d="M216.5 147.6H219.65" stroke="#1a1a1a" stroke-width="1"/>
<text transform="translate(213.9,150.6) scale(0.86,1)" font-size="8.6" text-anchor="end" fill="#262626" font-family="'Liberation Sans', sans-serif">100</text>
<path d="M216.5 173.4H219.65" stroke="#1a1a1a" stroke-width="1"/>
<text transform="translate(213.9,176.4) scale(0.86,1)" font-size="8.6" text-anchor="end" fill="#262626" font-family="'Liberation Sans', sans-serif">0</text>
<rect x="222" y="184.3" width="121.8" height="16.1" fill="#e5e5e5"/>
<clipPath id="cB2"><rect x="219.65" y="181.75" width="126.55" height="73"/></clipPath>
<g clip-path="url(#cB2)">
<path d="M225.8 194.5V221.2M224.3 194.5H227.3M224.3 221.2H227.3" stroke="#c8102e" stroke-opacity="0.7" stroke-width="1.05" fill="none"/>
<path d="M234.9 244.5V248.5M233.4 244.5H236.4M233.4 248.5H236.4" stroke="#c8102e" stroke-opacity="0.7" stroke-width="1.05" fill="none"/>
<path d="M244.1 238V246.6M242.6 238H245.6M242.6 246.6H245.6" stroke="#c8102e" stroke-opacity="0.7" stroke-width="1.05" fill="none"/>
<path d="M281.9 237.2V244.9M280.4 237.2H283.4M280.4 244.9H283.4" stroke="#c8102e" stroke-opacity="0.7" stroke-width="1.05" fill="none"/>
<path d="M339.3 219.5V237.2M337.8 219.5H340.8M337.8 237.2H340.8" stroke="#c8102e" stroke-opacity="0.7" stroke-width="1.05" fill="none"/>
<path d="M227.3 186.8V220.9M225.8 186.8H228.8M225.8 220.9H228.8" stroke="#17508c" stroke-opacity="0.7" stroke-width="1.05" fill="none"/>
<path d="M236.4 246V248.5M234.9 246H237.9M234.9 248.5H237.9" stroke="#17508c" stroke-opacity="0.7" stroke-width="1.05" fill="none"/>
<path d="M245.6 240.5V248.5M244.1 240.5H247.1M244.1 248.5H247.1" stroke="#17508c" stroke-opacity="0.7" stroke-width="1.05" fill="none"/>
<path d="M283.4 226.2V240.3M281.9 226.2H284.9M281.9 240.3H284.9" stroke="#17508c" stroke-opacity="0.7" stroke-width="1.05" fill="none"/>
<path d="M340.8 221.2V238.2M339.3 221.2H342.3M339.3 238.2H342.3" stroke="#17508c" stroke-opacity="0.7" stroke-width="1.05" fill="none"/>
<path d="M228.8 198V220.4M227.3 198H230.3M227.3 220.4H230.3" stroke="#33b24a" stroke-opacity="0.7" stroke-width="1.05" fill="none"/>
<path d="M237.9 249.5V251.3M236.4 249.5H239.4M236.4 251.3H239.4" stroke="#33b24a" stroke-opacity="0.7" stroke-width="1.05" fill="none"/>
<path d="M247.1 241.3V247.2M245.6 241.3H248.6M245.6 247.2H248.6" stroke="#33b24a" stroke-opacity="0.7" stroke-width="1.05" fill="none"/>
<path d="M284.9 240.3V245.5M283.4 240.3H286.4M283.4 245.5H286.4" stroke="#33b24a" stroke-opacity="0.7" stroke-width="1.05" fill="none"/>
<path d="M342.3 229.9V239.3M340.8 229.9H343.8M340.8 239.3H343.8" stroke="#33b24a" stroke-opacity="0.7" stroke-width="1.05" fill="none"/>
<polyline points="234.9,246.6 244.1,243.5 281.9,240.3 339.3,228.3" stroke="#c8102e" stroke-width="1.5" fill="none" stroke-linejoin="round"/>
<polyline points="236.4,247.2 245.6,244 283.4,234.1 340.8,229.5" stroke="#17508c" stroke-width="1.5" fill="none" stroke-linejoin="round"/>
<polyline points="237.9,250.4 247.1,244.8 284.9,242.8 342.3,234.1" stroke="#33b24a" stroke-width="1.5" fill="none" stroke-linejoin="round"/>
<circle cx="225.8" cy="208.1" r="1.6" fill="#c8102e"/>
<circle cx="234.9" cy="246.6" r="1.6" fill="#c8102e"/>
<circle cx="244.1" cy="243.5" r="1.6" fill="#c8102e"/>
<circle cx="281.9" cy="240.3" r="1.6" fill="#c8102e"/>
<circle cx="339.3" cy="228.3" r="1.6" fill="#c8102e"/>
<circle cx="227.3" cy="203.6" r="1.6" fill="#17508c"/>
<circle cx="236.4" cy="247.2" r="1.6" fill="#17508c"/>
<circle cx="245.6" cy="244" r="1.6" fill="#17508c"/>
<circle cx="283.4" cy="234.1" r="1.6" fill="#17508c"/>
<circle cx="340.8" cy="229.5" r="1.6" fill="#17508c"/>
<circle cx="228.8" cy="209.2" r="1.6" fill="#33b24a"/>
<circle cx="237.9" cy="250.4" r="1.6" fill="#33b24a"/>
<circle cx="247.1" cy="244.8" r="1.6" fill="#33b24a"/>
<circle cx="284.9" cy="242.8" r="1.6" fill="#33b24a"/>
<circle cx="342.3" cy="234.1" r="1.6" fill="#33b24a"/>
</g>
<circle cx="283.2" cy="192.1" r="1.1" fill="#1a1a1a"/>
<rect x="219.65" y="181.75" width="126.55" height="73" fill="none" stroke="#1a1a1a" stroke-width="1.3"/>
<rect x="346.2" y="181.75" width="15.2" height="73" fill="none" stroke="#1a1a1a" stroke-width="1.3"/>
<text transform="translate(350.9,218.25) rotate(90)" font-size="8.0" text-anchor="middle" fill="#222" font-family="'Liberation Sans', sans-serif">CM CD4</text>
<path d="M216.5 197.2H219.65" stroke="#1a1a1a" stroke-width="1"/>
<text transform="translate(213.9,200.2) scale(0.86,1)" font-size="8.6" text-anchor="end" fill="#262626" font-family="'Liberation Sans', sans-serif">150</text>
<path d="M216.5 215.6H219.65" stroke="#1a1a1a" stroke-width="1"/>
<text transform="translate(213.9,218.6) scale(0.86,1)" font-size="8.6" text-anchor="end" fill="#262626" font-family="'Liberation Sans', sans-serif">100</text>
<path d="M216.5 234.1H219.65" stroke="#1a1a1a" stroke-width="1"/>
<text transform="translate(213.9,237.1) scale(0.86,1)" font-size="8.6" text-anchor="end" fill="#262626" font-family="'Liberation Sans', sans-serif">50</text>
<path d="M216.5 252.5H219.65" stroke="#1a1a1a" stroke-width="1"/>
<text transform="translate(213.9,255.5) scale(0.86,1)" font-size="8.6" text-anchor="end" fill="#262626" font-family="'Liberation Sans', sans-serif">0</text>
<rect x="222" y="286.8" width="121.8" height="17" fill="#e5e5e5"/>
<clipPath id="cB3"><rect x="219.65" y="259.88" width="126.55" height="73"/></clipPath>
<g clip-path="url(#cB3)">
<path d="M225.8 290V309.7M224.3 290H227.3M224.3 309.7H227.3" stroke="#c8102e" stroke-opacity="0.7" stroke-width="1.05" fill="none"/>
<path d="M234.9 314.5V323.6M233.4 314.5H236.4M233.4 323.6H236.4" stroke="#c8102e" stroke-opacity="0.7" stroke-width="1.05" fill="none"/>
<path d="M244.1 280.3V316.9M242.6 280.3H245.6M242.6 316.9H245.6" stroke="#c8102e" stroke-opacity="0.7" stroke-width="1.05" fill="none"/>
<path d="M281.9 269.5V318.3M280.4 269.5H283.4M280.4 318.3H283.4" stroke="#c8102e" stroke-opacity="0.7" stroke-width="1.05" fill="none"/>
<path d="M339.3 262.2V302.7M337.8 262.2H340.8M337.8 302.7H340.8" stroke="#c8102e" stroke-opacity="0.7" stroke-width="1.05" fill="none"/>
<path d="M227.3 299.2V310.1M225.8 299.2H228.8M225.8 310.1H228.8" stroke="#17508c" stroke-opacity="0.7" stroke-width="1.05" fill="none"/>
<path d="M236.4 312.4V322.5M234.9 312.4H237.9M234.9 322.5H237.9" stroke="#17508c" stroke-opacity="0.7" stroke-width="1.05" fill="none"/>
<path d="M245.6 307.3V318.5M244.1 307.3H247.1M244.1 318.5H247.1" stroke="#17508c" stroke-opacity="0.7" stroke-width="1.05" fill="none"/>
<path d="M283.4 274.7V320M281.9 274.7H284.9M281.9 320H284.9" stroke="#17508c" stroke-opacity="0.7" stroke-width="1.05" fill="none"/>
<path d="M340.8 288.8V309M339.3 288.8H342.3M339.3 309H342.3" stroke="#17508c" stroke-opacity="0.7" stroke-width="1.05" fill="none"/>
<path d="M228.8 277.1V298M227.3 277.1H230.3M227.3 298H230.3" stroke="#33b24a" stroke-opacity="0.7" stroke-width="1.05" fill="none"/>
<path d="M237.9 328V329.8M236.4 328H239.4M236.4 329.8H239.4" stroke="#33b24a" stroke-opacity="0.7" stroke-width="1.05" fill="none"/>
<path d="M247.1 286.1V315.6M245.6 286.1H248.6M245.6 315.6H248.6" stroke="#33b24a" stroke-opacity="0.7" stroke-width="1.05" fill="none"/>
<path d="M284.9 288.8V311.7M283.4 288.8H286.4M283.4 311.7H286.4" stroke="#33b24a" stroke-opacity="0.7" stroke-width="1.05" fill="none"/>
<path d="M342.3 280.5V302.1M340.8 280.5H343.8M340.8 302.1H343.8" stroke="#33b24a" stroke-opacity="0.7" stroke-width="1.05" fill="none"/>
<polyline points="234.9,319.3 244.1,298.5 281.9,293.8 339.3,282.6" stroke="#c8102e" stroke-width="1.5" fill="none" stroke-linejoin="round"/>
<polyline points="236.4,318.2 245.6,312.2 283.4,297.5 340.8,298.6" stroke="#17508c" stroke-width="1.5" fill="none" stroke-linejoin="round"/>
<polyline points="237.9,328.9 247.1,301 284.9,299.6 342.3,291.3" stroke="#33b24a" stroke-width="1.5" fill="none" stroke-linejoin="round"/>
<circle cx="225.8" cy="299.6" r="1.6" fill="#c8102e"/>
<circle cx="234.9" cy="319.3" r="1.6" fill="#c8102e"/>
<circle cx="244.1" cy="298.5" r="1.6" fill="#c8102e"/>
<circle cx="281.9" cy="293.8" r="1.6" fill="#c8102e"/>
<circle cx="339.3" cy="282.6" r="1.6" fill="#c8102e"/>
<circle cx="227.3" cy="304.9" r="1.6" fill="#17508c"/>
<circle cx="236.4" cy="318.2" r="1.6" fill="#17508c"/>
<circle cx="245.6" cy="312.2" r="1.6" fill="#17508c"/>
<circle cx="283.4" cy="297.5" r="1.6" fill="#17508c"/>
<circle cx="340.8" cy="298.6" r="1.6" fill="#17508c"/>
<circle cx="228.8" cy="287.7" r="1.6" fill="#33b24a"/>
<circle cx="237.9" cy="328.9" r="1.6" fill="#33b24a"/>
<circle cx="247.1" cy="301" r="1.6" fill="#33b24a"/>
<circle cx="284.9" cy="299.6" r="1.6" fill="#33b24a"/>
<circle cx="342.3" cy="291.3" r="1.6" fill="#33b24a"/>
</g>
<circle cx="227.8" cy="264.9" r="1.1" fill="#1a1a1a"/>
<circle cx="233.55" cy="268.5" r="1.1" fill="#1a1a1a"/>
<circle cx="237" cy="268.5" r="1.1" fill="#1a1a1a"/>
<circle cx="240.45" cy="268.5" r="1.1" fill="#1a1a1a"/>
<rect x="219.65" y="259.88" width="126.55" height="73" fill="none" stroke="#1a1a1a" stroke-width="1.3"/>
<rect x="346.2" y="259.88" width="15.2" height="73" fill="none" stroke="#1a1a1a" stroke-width="1.3"/>
<text transform="translate(350.9,296.38) rotate(90)" font-size="8.0" text-anchor="middle" fill="#222" font-family="'Liberation Sans', sans-serif">EM CD4</text>
<path d="M216.5 270.1H219.65" stroke="#1a1a1a" stroke-width="1"/>
<text transform="translate(213.9,273.1) scale(0.86,1)" font-size="8.6" text-anchor="end" fill="#262626" font-family="'Liberation Sans', sans-serif">200</text>
<path d="M216.5 285.3H219.65" stroke="#1a1a1a" stroke-width="1"/>
<text transform="translate(213.9,288.3) scale(0.86,1)" font-size="8.6" text-anchor="end" fill="#262626" font-family="'Liberation Sans', sans-serif">150</text>
<path d="M216.5 300.5H219.65" stroke="#1a1a1a" stroke-width="1"/>
<text transform="translate(213.9,303.5) scale(0.86,1)" font-size="8.6" text-anchor="end" fill="#262626" font-family="'Liberation Sans', sans-serif">100</text>
<path d="M216.5 316.1H219.65" stroke="#1a1a1a" stroke-width="1"/>
<text transform="translate(213.9,319.1) scale(0.86,1)" font-size="8.6" text-anchor="end" fill="#262626" font-family="'Liberation Sans', sans-serif">50</text>
<path d="M216.5 331.3H219.65" stroke="#1a1a1a" stroke-width="1"/>
<text transform="translate(213.9,334.3) scale(0.86,1)" font-size="8.6" text-anchor="end" fill="#262626" font-family="'Liberation Sans', sans-serif">0</text>
<rect x="222" y="355.3" width="121.8" height="36.4" fill="#e5e5e5"/>
<clipPath id="cB4"><rect x="219.65" y="338" width="126.55" height="73"/></clipPath>
<g clip-path="url(#cB4)">
<path d="M225.8 348.1V390.4M224.3 348.1H227.3M224.3 390.4H227.3" stroke="#c8102e" stroke-opacity="0.7" stroke-width="1.05" fill="none"/>
<path d="M234.9 398V401.6M233.4 398H236.4M233.4 401.6H236.4" stroke="#c8102e" stroke-opacity="0.7" stroke-width="1.05" fill="none"/>
<path d="M244.1 386.1V399.4M242.6 386.1H245.6M242.6 399.4H245.6" stroke="#c8102e" stroke-opacity="0.7" stroke-width="1.05" fill="none"/>
<path d="M281.9 366.2V393.2M280.4 366.2H283.4M280.4 393.2H283.4" stroke="#c8102e" stroke-opacity="0.7" stroke-width="1.05" fill="none"/>
<path d="M339.3 344.8V395.9M337.8 344.8H340.8M337.8 395.9H340.8" stroke="#c8102e" stroke-opacity="0.7" stroke-width="1.05" fill="none"/>
<path d="M227.3 376.4V393.3M225.8 376.4H228.8M225.8 393.3H228.8" stroke="#17508c" stroke-opacity="0.7" stroke-width="1.05" fill="none"/>
<path d="M236.4 397.5V400.3M234.9 397.5H237.9M234.9 400.3H237.9" stroke="#17508c" stroke-opacity="0.7" stroke-width="1.05" fill="none"/>
<path d="M245.6 387.7V398.9M244.1 387.7H247.1M244.1 398.9H247.1" stroke="#17508c" stroke-opacity="0.7" stroke-width="1.05" fill="none"/>
<path d="M283.4 371.8V395.9M281.9 371.8H284.9M281.9 395.9H284.9" stroke="#17508c" stroke-opacity="0.7" stroke-width="1.05" fill="none"/>
<path d="M340.8 366.2V390.1M339.3 366.2H342.3M339.3 390.1H342.3" stroke="#17508c" stroke-opacity="0.7" stroke-width="1.05" fill="none"/>
<path d="M228.8 342.3V376.4M227.3 342.3H230.3M227.3 376.4H230.3" stroke="#33b24a" stroke-opacity="0.7" stroke-width="1.05" fill="none"/>
<path d="M237.9 399.7V404.2M236.4 399.7H239.4M236.4 404.2H239.4" stroke="#33b24a" stroke-opacity="0.7" stroke-width="1.05" fill="none"/>
<path d="M247.1 350V408M245.6 350H248.6M245.6 408H248.6" stroke="#33b24a" stroke-opacity="0.7" stroke-width="1.05" fill="none"/>
<path d="M284.9 370.3V391.1M283.4 370.3H286.4M283.4 391.1H286.4" stroke="#33b24a" stroke-opacity="0.7" stroke-width="1.05" fill="none"/>
<path d="M342.3 340.2V378.7M340.8 340.2H343.8M340.8 378.7H343.8" stroke="#33b24a" stroke-opacity="0.7" stroke-width="1.05" fill="none"/>
<polyline points="234.9,399.7 244.1,392.8 281.9,379.3 339.3,370.3" stroke="#c8102e" stroke-width="1.5" fill="none" stroke-linejoin="round"/>
<polyline points="236.4,398.9 245.6,393.7 283.4,383.8 340.8,378" stroke="#17508c" stroke-width="1.5" fill="none" stroke-linejoin="round"/>
<polyline points="237.9,402.1 247.1,379 284.9,380.7 342.3,360" stroke="#33b24a" stroke-width="1.5" fill="none" stroke-linejoin="round"/>
<circle cx="225.8" cy="369.2" r="1.6" fill="#c8102e"/>
<circle cx="234.9" cy="399.7" r="1.6" fill="#c8102e"/>
<circle cx="244.1" cy="392.8" r="1.6" fill="#c8102e"/>
<circle cx="281.9" cy="379.3" r="1.6" fill="#c8102e"/>
<circle cx="339.3" cy="370.3" r="1.6" fill="#c8102e"/>
<circle cx="227.3" cy="384.9" r="1.6" fill="#17508c"/>
<circle cx="236.4" cy="398.9" r="1.6" fill="#17508c"/>
<circle cx="245.6" cy="393.7" r="1.6" fill="#17508c"/>
<circle cx="283.4" cy="383.8" r="1.6" fill="#17508c"/>
<circle cx="340.8" cy="378" r="1.6" fill="#17508c"/>
<circle cx="228.8" cy="359.6" r="1.6" fill="#33b24a"/>
<circle cx="237.9" cy="402.1" r="1.6" fill="#33b24a"/>
<circle cx="247.1" cy="379" r="1.6" fill="#33b24a"/>
<circle cx="284.9" cy="380.7" r="1.6" fill="#33b24a"/>
<circle cx="342.3" cy="360" r="1.6" fill="#33b24a"/>
</g>
<rect x="219.65" y="338" width="126.55" height="73" fill="none" stroke="#1a1a1a" stroke-width="1.3"/>
<rect x="346.2" y="338" width="15.2" height="73" fill="none" stroke="#1a1a1a" stroke-width="1.3"/>
<text transform="translate(350.9,374.5) rotate(90)" font-size="8.0" text-anchor="middle" fill="#222" font-family="'Liberation Sans', sans-serif">TEMRA CD4</text>
<path d="M216.5 353.7H219.65" stroke="#1a1a1a" stroke-width="1"/>
<text transform="translate(213.9,356.7) scale(0.86,1)" font-size="8.6" text-anchor="end" fill="#262626" font-family="'Liberation Sans', sans-serif">60</text>
<path d="M216.5 370.8H219.65" stroke="#1a1a1a" stroke-width="1"/>
<text transform="translate(213.9,373.8) scale(0.86,1)" font-size="8.6" text-anchor="end" fill="#262626" font-family="'Liberation Sans', sans-serif">40</text>
<path d="M216.5 387.7H219.65" stroke="#1a1a1a" stroke-width="1"/>
<text transform="translate(213.9,390.7) scale(0.86,1)" font-size="8.6" text-anchor="end" fill="#262626" font-family="'Liberation Sans', sans-serif">20</text>
<path d="M216.5 404.8H219.65" stroke="#1a1a1a" stroke-width="1"/>
<text transform="translate(213.9,407.8) scale(0.86,1)" font-size="8.6" text-anchor="end" fill="#262626" font-family="'Liberation Sans', sans-serif">0</text>
<rect x="396.9" y="60.2" width="97.3" height="17.5" fill="#e5e5e5"/>
<clipPath id="cC0"><rect x="395.5" y="25.5" width="101.9" height="73"/></clipPath>
<g clip-path="url(#cC0)">
<path d="M400.2 68.5V83.7M398.7 68.5H401.7M398.7 83.7H401.7" stroke="#c8102e" stroke-opacity="0.7" stroke-width="1.05" fill="none"/>
<path d="M407.4 76.5V89.3M405.9 76.5H408.9M405.9 89.3H408.9" stroke="#c8102e" stroke-opacity="0.7" stroke-width="1.05" fill="none"/>
<path d="M415.4 56.4V82.3M413.9 56.4H416.9M413.9 82.3H416.9" stroke="#c8102e" stroke-opacity="0.7" stroke-width="1.05" fill="none"/>
<path d="M445.3 45.4V87.8M443.8 45.4H446.8M443.8 87.8H446.8" stroke="#c8102e" stroke-opacity="0.7" stroke-width="1.05" fill="none"/>
<path d="M491.7 50V78.2M490.2 50H493.2M490.2 78.2H493.2" stroke="#c8102e" stroke-opacity="0.7" stroke-width="1.05" fill="none"/>
<path d="M401.5 74.9V83.7M400 74.9H403M400 83.7H403" stroke="#17508c" stroke-opacity="0.7" stroke-width="1.05" fill="none"/>
<path d="M408.7 75.7V83.7M407.2 75.7H410.2M407.2 83.7H410.2" stroke="#17508c" stroke-opacity="0.7" stroke-width="1.05" fill="none"/>
<path d="M416.7 71.7V81.3M415.2 71.7H418.2M415.2 81.3H418.2" stroke="#17508c" stroke-opacity="0.7" stroke-width="1.05" fill="none"/>
<path d="M446.6 28.6V92.1M445.1 28.6H448.1M445.1 92.1H448.1" stroke="#17508c" stroke-opacity="0.7" stroke-width="1.05" fill="none"/>
<path d="M493 50V74.8M491.5 50H494.5M491.5 74.8H494.5" stroke="#17508c" stroke-opacity="0.7" stroke-width="1.05" fill="none"/>
<path d="M402.8 74.1V82.1M401.3 74.1H404.3M401.3 82.1H404.3" stroke="#33b24a" stroke-opacity="0.7" stroke-width="1.05" fill="none"/>
<path d="M410 93.5V94.7M408.5 93.5H411.5M408.5 94.7H411.5" stroke="#33b24a" stroke-opacity="0.7" stroke-width="1.05" fill="none"/>
<path d="M418 78.6V88.3M416.5 78.6H419.5M416.5 88.3H419.5" stroke="#33b24a" stroke-opacity="0.7" stroke-width="1.05" fill="none"/>
<path d="M447.9 67V83.4M446.4 67H449.4M446.4 83.4H449.4" stroke="#33b24a" stroke-opacity="0.7" stroke-width="1.05" fill="none"/>
<path d="M494.3 32.7V75.7M492.8 32.7H495.8M492.8 75.7H495.8" stroke="#33b24a" stroke-opacity="0.7" stroke-width="1.05" fill="none"/>
<polyline points="407.4,83.2 415.4,69.2 445.3,66.7 491.7,64.4" stroke="#c8102e" stroke-width="1.5" fill="none" stroke-linejoin="round"/>
<polyline points="408.7,80 416.7,76 446.6,59.7 493,62.2" stroke="#17508c" stroke-width="1.5" fill="none" stroke-linejoin="round"/>
<polyline points="410,94.1 418,83.5 447.9,75.3 494.3,54" stroke="#33b24a" stroke-width="1.5" fill="none" stroke-linejoin="round"/>
<circle cx="400.2" cy="76.1" r="1.6" fill="#c8102e"/>
<circle cx="407.4" cy="83.2" r="1.6" fill="#c8102e"/>
<circle cx="415.4" cy="69.2" r="1.6" fill="#c8102e"/>
<circle cx="445.3" cy="66.7" r="1.6" fill="#c8102e"/>
<circle cx="491.7" cy="64.4" r="1.6" fill="#c8102e"/>
<circle cx="401.5" cy="78.9" r="1.6" fill="#17508c"/>
<circle cx="408.7" cy="80" r="1.6" fill="#17508c"/>
<circle cx="416.7" cy="76" r="1.6" fill="#17508c"/>
<circle cx="446.6" cy="59.7" r="1.6" fill="#17508c"/>
<circle cx="493" cy="62.2" r="1.6" fill="#17508c"/>
<circle cx="402.8" cy="78.1" r="1.6" fill="#33b24a"/>
<circle cx="410" cy="94.1" r="1.6" fill="#33b24a"/>
<circle cx="418" cy="83.5" r="1.6" fill="#33b24a"/>
<circle cx="447.9" cy="75.3" r="1.6" fill="#33b24a"/>
<circle cx="494.3" cy="54" r="1.6" fill="#33b24a"/>
</g>
<circle cx="405.75" cy="38.3" r="1.1" fill="#1a1a1a"/>
<circle cx="409.2" cy="38.3" r="1.1" fill="#1a1a1a"/>
<circle cx="412.65" cy="38.3" r="1.1" fill="#1a1a1a"/>
<text transform="translate(488.2,41) scale(0.92,1)" font-size="8" font-style="italic" text-anchor="end" fill="#2a2a2a" font-family="'Liberation Sans', sans-serif">P = .01</text>
<rect x="395.5" y="25.5" width="101.9" height="73" fill="none" stroke="#1a1a1a" stroke-width="1.3"/>
<rect x="497.4" y="25.5" width="15.4" height="73" fill="none" stroke="#1a1a1a" stroke-width="1.3"/>
<text transform="translate(502.2,62) rotate(90)" font-size="8.0" text-anchor="middle" fill="#222" font-family="'Liberation Sans', sans-serif">CD8+ T-cells</text>
<path d="M391.8 39.6H395.5" stroke="#1a1a1a" stroke-width="1"/>
<text transform="translate(389,42.6) scale(0.86,1)" font-size="8.6" text-anchor="end" fill="#262626" font-family="'Liberation Sans', sans-serif">750</text>
<path d="M391.8 59.2H395.5" stroke="#1a1a1a" stroke-width="1"/>
<text transform="translate(389,62.2) scale(0.86,1)" font-size="8.6" text-anchor="end" fill="#262626" font-family="'Liberation Sans', sans-serif">500</text>
<path d="M391.8 78.2H395.5" stroke="#1a1a1a" stroke-width="1"/>
<text transform="translate(389,81.2) scale(0.86,1)" font-size="8.6" text-anchor="end" fill="#262626" font-family="'Liberation Sans', sans-serif">250</text>
<path d="M391.8 97H395.5" stroke="#1a1a1a" stroke-width="1"/>
<text transform="translate(389,100) scale(0.86,1)" font-size="8.6" text-anchor="end" fill="#262626" font-family="'Liberation Sans', sans-serif">0</text>
<rect x="396.9" y="106.5" width="97.3" height="17.8" fill="#e5e5e5"/>
<clipPath id="cC1"><rect x="395.5" y="103.62" width="101.9" height="73"/></clipPath>
<g clip-path="url(#cC1)">
<path d="M400.2 118.9V148.9M398.7 118.9H401.7M398.7 148.9H401.7" stroke="#c8102e" stroke-opacity="0.7" stroke-width="1.05" fill="none"/>
<path d="M407.4 170.8V171.8M405.9 170.8H408.9M405.9 171.8H408.9" stroke="#c8102e" stroke-opacity="0.7" stroke-width="1.05" fill="none"/>
<path d="M415.4 159.8V170.8M413.9 159.8H416.9M413.9 170.8H416.9" stroke="#c8102e" stroke-opacity="0.7" stroke-width="1.05" fill="none"/>
<path d="M445.3 156.2V168.4M443.8 156.2H446.8M443.8 168.4H446.8" stroke="#c8102e" stroke-opacity="0.7" stroke-width="1.05" fill="none"/>
<path d="M491.7 129.8V158M490.2 129.8H493.2M490.2 158H493.2" stroke="#c8102e" stroke-opacity="0.7" stroke-width="1.05" fill="none"/>
<path d="M401.5 126.9V156.1M400 126.9H403M400 156.1H403" stroke="#17508c" stroke-opacity="0.7" stroke-width="1.05" fill="none"/>
<path d="M408.7 171.3V172.3M407.2 171.3H410.2M407.2 172.3H410.2" stroke="#17508c" stroke-opacity="0.7" stroke-width="1.05" fill="none"/>
<path d="M416.7 163V170.5M415.2 163H418.2M415.2 170.5H418.2" stroke="#17508c" stroke-opacity="0.7" stroke-width="1.05" fill="none"/>
<path d="M446.6 152.3V164M445.1 152.3H448.1M445.1 164H448.1" stroke="#17508c" stroke-opacity="0.7" stroke-width="1.05" fill="none"/>
<path d="M493 150.5V160.9M491.5 150.5H494.5M491.5 160.9H494.5" stroke="#17508c" stroke-opacity="0.7" stroke-width="1.05" fill="none"/>
<path d="M402.8 128V148M401.3 128H404.3M401.3 148H404.3" stroke="#33b24a" stroke-opacity="0.7" stroke-width="1.05" fill="none"/>
<path d="M410 173.2V174.2M408.5 173.2H411.5M408.5 174.2H411.5" stroke="#33b24a" stroke-opacity="0.7" stroke-width="1.05" fill="none"/>
<path d="M418 171.8V173M416.5 171.8H419.5M416.5 173H419.5" stroke="#33b24a" stroke-opacity="0.7" stroke-width="1.05" fill="none"/>
<path d="M447.9 165.4V170.1M446.4 165.4H449.4M446.4 170.1H449.4" stroke="#33b24a" stroke-opacity="0.7" stroke-width="1.05" fill="none"/>
<path d="M494.3 118.2V153.7M492.8 118.2H495.8M492.8 153.7H495.8" stroke="#33b24a" stroke-opacity="0.7" stroke-width="1.05" fill="none"/>
<polyline points="407.4,171.3 415.4,165.8 445.3,162.3 491.7,143.6" stroke="#c8102e" stroke-width="1.5" fill="none" stroke-linejoin="round"/>
<polyline points="408.7,171.8 416.7,164.8 446.6,159.2 493,155.7" stroke="#17508c" stroke-width="1.5" fill="none" stroke-linejoin="round"/>
<polyline points="410,173.7 418,172.4 447.9,167.8 494.3,136" stroke="#33b24a" stroke-width="1.5" fill="none" stroke-linejoin="round"/>
<circle cx="400.2" cy="134" r="1.6" fill="#c8102e"/>
<circle cx="407.4" cy="171.3" r="1.6" fill="#c8102e"/>
<circle cx="415.4" cy="165.8" r="1.6" fill="#c8102e"/>
<circle cx="445.3" cy="162.3" r="1.6" fill="#c8102e"/>
<circle cx="491.7" cy="143.6" r="1.6" fill="#c8102e"/>
<circle cx="401.5" cy="141.6" r="1.6" fill="#17508c"/>
<circle cx="408.7" cy="171.8" r="1.6" fill="#17508c"/>
<circle cx="416.7" cy="164.8" r="1.6" fill="#17508c"/>
<circle cx="446.6" cy="159.2" r="1.6" fill="#17508c"/>
<circle cx="493" cy="155.7" r="1.6" fill="#17508c"/>
<circle cx="402.8" cy="138.4" r="1.6" fill="#33b24a"/>
<circle cx="410" cy="173.7" r="1.6" fill="#33b24a"/>
<circle cx="418" cy="172.4" r="1.6" fill="#33b24a"/>
<circle cx="447.9" cy="167.8" r="1.6" fill="#33b24a"/>
<circle cx="494.3" cy="136" r="1.6" fill="#33b24a"/>
</g>
<circle cx="404.25" cy="116.1" r="1.1" fill="#1a1a1a"/>
<circle cx="407.7" cy="116.1" r="1.1" fill="#1a1a1a"/>
<circle cx="411.15" cy="116.1" r="1.1" fill="#1a1a1a"/>
<circle cx="416.27" cy="116.1" r="1.1" fill="#1a1a1a"/>
<circle cx="419.73" cy="116.1" r="1.1" fill="#1a1a1a"/>
<circle cx="447.5" cy="116.1" r="1.1" fill="#1a1a1a"/>
<rect x="395.5" y="103.62" width="101.9" height="73" fill="none" stroke="#1a1a1a" stroke-width="1.3"/>
<rect x="497.4" y="103.62" width="15.4" height="73" fill="none" stroke="#1a1a1a" stroke-width="1.3"/>
<text transform="translate(502.2,140.12) rotate(90)" font-size="8.0" text-anchor="middle" fill="#222" font-family="'Liberation Sans', sans-serif">Naive CD8</text>
<path d="M391.8 118.7H395.5" stroke="#1a1a1a" stroke-width="1"/>
<text transform="translate(389,121.7) scale(0.86,1)" font-size="8.6" text-anchor="end" fill="#262626" font-family="'Liberation Sans', sans-serif">90</text>
<path d="M391.8 137.2H395.5" stroke="#1a1a1a" stroke-width="1"/>
<text transform="translate(389,140.2) scale(0.86,1)" font-size="8.6" text-anchor="end" fill="#262626" font-family="'Liberation Sans', sans-serif">60</text>
<path d="M391.8 155.3H395.5" stroke="#1a1a1a" stroke-width="1"/>
<text transform="translate(389,158.3) scale(0.86,1)" font-size="8.6" text-anchor="end" fill="#262626" font-family="'Liberation Sans', sans-serif">30</text>
<path d="M391.8 173.4H395.5" stroke="#1a1a1a" stroke-width="1"/>
<text transform="translate(389,176.4) scale(0.86,1)" font-size="8.6" text-anchor="end" fill="#262626" font-family="'Liberation Sans', sans-serif">0</text>
<rect x="396.9" y="189.9" width="97.3" height="31.7" fill="#e5e5e5"/>
<clipPath id="cC2"><rect x="395.5" y="181.75" width="101.9" height="73"/></clipPath>
<g clip-path="url(#cC2)">
<path d="M400.2 194V224.5M398.7 194H401.7M398.7 224.5H401.7" stroke="#c8102e" stroke-opacity="0.7" stroke-width="1.05" fill="none"/>
<path d="M407.4 239.7V246.1M405.9 239.7H408.9M405.9 246.1H408.9" stroke="#c8102e" stroke-opacity="0.7" stroke-width="1.05" fill="none"/>
<path d="M415.4 228V244M413.9 228H416.9M413.9 244H416.9" stroke="#c8102e" stroke-opacity="0.7" stroke-width="1.05" fill="none"/>
<path d="M445.3 214.3V243.4M443.8 214.3H446.8M443.8 243.4H446.8" stroke="#c8102e" stroke-opacity="0.7" stroke-width="1.05" fill="none"/>
<path d="M491.7 210V236.5M490.2 210H493.2M490.2 236.5H493.2" stroke="#c8102e" stroke-opacity="0.7" stroke-width="1.05" fill="none"/>
<path d="M401.5 207.6V233.3M400 207.6H403M400 233.3H403" stroke="#17508c" stroke-opacity="0.7" stroke-width="1.05" fill="none"/>
<path d="M408.7 235.3V244M407.2 235.3H410.2M407.2 244H410.2" stroke="#17508c" stroke-opacity="0.7" stroke-width="1.05" fill="none"/>
<path d="M416.7 218.8V242.9M415.2 218.8H418.2M415.2 242.9H418.2" stroke="#17508c" stroke-opacity="0.7" stroke-width="1.05" fill="none"/>
<path d="M446.6 193.9V235.1M445.1 193.9H448.1M445.1 235.1H448.1" stroke="#17508c" stroke-opacity="0.7" stroke-width="1.05" fill="none"/>
<path d="M493 207.8V237.7M491.5 207.8H494.5M491.5 237.7H494.5" stroke="#17508c" stroke-opacity="0.7" stroke-width="1.05" fill="none"/>
<path d="M402.8 226.9V239.7M401.3 226.9H404.3M401.3 239.7H404.3" stroke="#33b24a" stroke-opacity="0.7" stroke-width="1.05" fill="none"/>
<path d="M410 250.8V252M408.5 250.8H411.5M408.5 252H411.5" stroke="#33b24a" stroke-opacity="0.7" stroke-width="1.05" fill="none"/>
<path d="M418 244.5V249.3M416.5 244.5H419.5M416.5 249.3H419.5" stroke="#33b24a" stroke-opacity="0.7" stroke-width="1.05" fill="none"/>
<path d="M447.9 244.6V248.1M446.4 244.6H449.4M446.4 248.1H449.4" stroke="#33b24a" stroke-opacity="0.7" stroke-width="1.05" fill="none"/>
<path d="M494.3 237.7V243.8M492.8 237.7H495.8M492.8 243.8H495.8" stroke="#33b24a" stroke-opacity="0.7" stroke-width="1.05" fill="none"/>
<polyline points="407.4,242.9 415.4,236.2 445.3,229.6 491.7,223.3" stroke="#c8102e" stroke-width="1.5" fill="none" stroke-linejoin="round"/>
<polyline points="408.7,239.7 416.7,232.3 446.6,214.3 493,222.1" stroke="#17508c" stroke-width="1.5" fill="none" stroke-linejoin="round"/>
<polyline points="410,251.4 418,247 447.9,246.4 494.3,241.2" stroke="#33b24a" stroke-width="1.5" fill="none" stroke-linejoin="round"/>
<circle cx="400.2" cy="209.2" r="1.6" fill="#c8102e"/>
<circle cx="407.4" cy="242.9" r="1.6" fill="#c8102e"/>
<circle cx="415.4" cy="236.2" r="1.6" fill="#c8102e"/>
<circle cx="445.3" cy="229.6" r="1.6" fill="#c8102e"/>
<circle cx="491.7" cy="223.3" r="1.6" fill="#c8102e"/>
<circle cx="401.5" cy="220.4" r="1.6" fill="#17508c"/>
<circle cx="408.7" cy="239.7" r="1.6" fill="#17508c"/>
<circle cx="416.7" cy="232.3" r="1.6" fill="#17508c"/>
<circle cx="446.6" cy="214.3" r="1.6" fill="#17508c"/>
<circle cx="493" cy="222.1" r="1.6" fill="#17508c"/>
<circle cx="402.8" cy="233.3" r="1.6" fill="#33b24a"/>
<circle cx="410" cy="251.4" r="1.6" fill="#33b24a"/>
<circle cx="418" cy="247" r="1.6" fill="#33b24a"/>
<circle cx="447.9" cy="246.4" r="1.6" fill="#33b24a"/>
<circle cx="494.3" cy="241.2" r="1.6" fill="#33b24a"/>
</g>
<circle cx="399.67" cy="183.9" r="1.1" fill="#1a1a1a"/>
<circle cx="403.12" cy="183.9" r="1.1" fill="#1a1a1a"/>
<circle cx="405.65" cy="186.9" r="1.1" fill="#1a1a1a"/>
<circle cx="409.1" cy="186.9" r="1.1" fill="#1a1a1a"/>
<circle cx="412.55" cy="186.9" r="1.1" fill="#1a1a1a"/>
<circle cx="416.6" cy="183.9" r="1.1" fill="#1a1a1a"/>
<circle cx="443.55" cy="183.9" r="1.1" fill="#1a1a1a"/>
<circle cx="447" cy="183.9" r="1.1" fill="#1a1a1a"/>
<circle cx="450.45" cy="183.9" r="1.1" fill="#1a1a1a"/>
<circle cx="493.4" cy="183.9" r="1.1" fill="#1a1a1a"/>
<text transform="translate(490,201.2) scale(0.92,1)" font-size="8" font-style="italic" text-anchor="end" fill="#2a2a2a" font-family="'Liberation Sans', sans-serif">P &lt; .001</text>
<rect x="395.5" y="181.75" width="101.9" height="73" fill="none" stroke="#1a1a1a" stroke-width="1.3"/>
<rect x="497.4" y="181.75" width="15.4" height="73" fill="none" stroke="#1a1a1a" stroke-width="1.3"/>
<text transform="translate(502.2,218.25) rotate(90)" font-size="8.0" text-anchor="middle" fill="#222" font-family="'Liberation Sans', sans-serif">CM CD8</text>
<path d="M391.8 185.7H395.5" stroke="#1a1a1a" stroke-width="1"/>
<text transform="translate(389,188.7) scale(0.86,1)" font-size="8.6" text-anchor="end" fill="#262626" font-family="'Liberation Sans', sans-serif">50</text>
<path d="M391.8 198.8H395.5" stroke="#1a1a1a" stroke-width="1"/>
<text transform="translate(389,201.8) scale(0.86,1)" font-size="8.6" text-anchor="end" fill="#262626" font-family="'Liberation Sans', sans-serif">40</text>
<path d="M391.8 212.1H395.5" stroke="#1a1a1a" stroke-width="1"/>
<text transform="translate(389,215.1) scale(0.86,1)" font-size="8.6" text-anchor="end" fill="#262626" font-family="'Liberation Sans', sans-serif">30</text>
<path d="M391.8 225.6H395.5" stroke="#1a1a1a" stroke-width="1"/>
<text transform="translate(389,228.6) scale(0.86,1)" font-size="8.6" text-anchor="end" fill="#262626" font-family="'Liberation Sans', sans-serif">20</text>
<path d="M391.8 238.9H395.5" stroke="#1a1a1a" stroke-width="1"/>
<text transform="translate(389,241.9) scale(0.86,1)" font-size="8.6" text-anchor="end" fill="#262626" font-family="'Liberation Sans', sans-serif">10</text>
<path d="M391.8 252.2H395.5" stroke="#1a1a1a" stroke-width="1"/>
<text transform="translate(389,255.2) scale(0.86,1)" font-size="8.6" text-anchor="end" fill="#262626" font-family="'Liberation Sans', sans-serif">0</text>
<rect x="396.9" y="320.2" width="97.3" height="4.7" fill="#e5e5e5"/>
<clipPath id="cC3"><rect x="395.5" y="259.88" width="101.9" height="73"/></clipPath>
<g clip-path="url(#cC3)">
<path d="M400.2 316.9V325.2M398.7 316.9H401.7M398.7 325.2H401.7" stroke="#c8102e" stroke-opacity="0.7" stroke-width="1.05" fill="none"/>
<path d="M407.4 312.9V323.6M405.9 312.9H408.9M405.9 323.6H408.9" stroke="#c8102e" stroke-opacity="0.7" stroke-width="1.05" fill="none"/>
<path d="M415.4 286.1V323.3M413.9 286.1H416.9M413.9 323.3H416.9" stroke="#c8102e" stroke-opacity="0.7" stroke-width="1.05" fill="none"/>
<path d="M445.3 278.8V327.3M443.8 278.8H446.8M443.8 327.3H446.8" stroke="#c8102e" stroke-opacity="0.7" stroke-width="1.05" fill="none"/>
<path d="M491.7 295.5V322.6M490.2 295.5H493.2M490.2 322.6H493.2" stroke="#c8102e" stroke-opacity="0.7" stroke-width="1.05" fill="none"/>
<path d="M401.5 320.9V324.9M400 320.9H403M400 324.9H403" stroke="#17508c" stroke-opacity="0.7" stroke-width="1.05" fill="none"/>
<path d="M408.7 307.3V318.5M407.2 307.3H410.2M407.2 318.5H410.2" stroke="#17508c" stroke-opacity="0.7" stroke-width="1.05" fill="none"/>
<path d="M416.7 303.7V320.1M415.2 303.7H418.2M415.2 320.1H418.2" stroke="#17508c" stroke-opacity="0.7" stroke-width="1.05" fill="none"/>
<path d="M446.6 268.1V330.4M445.1 268.1H448.1M445.1 330.4H448.1" stroke="#17508c" stroke-opacity="0.7" stroke-width="1.05" fill="none"/>
<path d="M493 301.3V317.4M491.5 301.3H494.5M491.5 317.4H494.5" stroke="#17508c" stroke-opacity="0.7" stroke-width="1.05" fill="none"/>
<path d="M402.8 322.5V324.7M401.3 322.5H404.3M401.3 324.7H404.3" stroke="#33b24a" stroke-opacity="0.7" stroke-width="1.05" fill="none"/>
<path d="M410 328.3V329.5M408.5 328.3H411.5M408.5 329.5H411.5" stroke="#33b24a" stroke-opacity="0.7" stroke-width="1.05" fill="none"/>
<path d="M418 308.1V323.3M416.5 308.1H419.5M416.5 323.3H419.5" stroke="#33b24a" stroke-opacity="0.7" stroke-width="1.05" fill="none"/>
<path d="M447.9 310.5V321.8M446.4 310.5H449.4M446.4 321.8H449.4" stroke="#33b24a" stroke-opacity="0.7" stroke-width="1.05" fill="none"/>
<path d="M494.3 302.4V320M492.8 302.4H495.8M492.8 320H495.8" stroke="#33b24a" stroke-opacity="0.7" stroke-width="1.05" fill="none"/>
<polyline points="407.4,318.1 415.4,303.2 445.3,303.1 491.7,310" stroke="#c8102e" stroke-width="1.5" fill="none" stroke-linejoin="round"/>
<polyline points="408.7,312.4 416.7,311.7 446.6,299.3 493,309.3" stroke="#17508c" stroke-width="1.5" fill="none" stroke-linejoin="round"/>
<polyline points="410,328.9 418,316 447.9,315.7 494.3,311.4" stroke="#33b24a" stroke-width="1.5" fill="none" stroke-linejoin="round"/>
<circle cx="400.2" cy="321.7" r="1.6" fill="#c8102e"/>
<circle cx="407.4" cy="318.1" r="1.6" fill="#c8102e"/>
<circle cx="415.4" cy="303.2" r="1.6" fill="#c8102e"/>
<circle cx="445.3" cy="303.1" r="1.6" fill="#c8102e"/>
<circle cx="491.7" cy="310" r="1.6" fill="#c8102e"/>
<circle cx="401.5" cy="323" r="1.6" fill="#17508c"/>
<circle cx="408.7" cy="312.4" r="1.6" fill="#17508c"/>
<circle cx="416.7" cy="311.7" r="1.6" fill="#17508c"/>
<circle cx="446.6" cy="299.3" r="1.6" fill="#17508c"/>
<circle cx="493" cy="309.3" r="1.6" fill="#17508c"/>
<circle cx="402.8" cy="323.6" r="1.6" fill="#33b24a"/>
<circle cx="410" cy="328.9" r="1.6" fill="#33b24a"/>
<circle cx="418" cy="316" r="1.6" fill="#33b24a"/>
<circle cx="447.9" cy="315.7" r="1.6" fill="#33b24a"/>
<circle cx="494.3" cy="311.4" r="1.6" fill="#33b24a"/>
</g>
<circle cx="405.75" cy="268.5" r="1.1" fill="#1a1a1a"/>
<circle cx="409.2" cy="268.5" r="1.1" fill="#1a1a1a"/>
<circle cx="412.65" cy="268.5" r="1.1" fill="#1a1a1a"/>
<text transform="translate(490.5,272.4) scale(0.92,1)" font-size="8" font-style="italic" text-anchor="end" fill="#2a2a2a" font-family="'Liberation Sans', sans-serif">P = .009</text>
<rect x="395.5" y="259.88" width="101.9" height="73" fill="none" stroke="#1a1a1a" stroke-width="1.3"/>
<rect x="497.4" y="259.88" width="15.4" height="73" fill="none" stroke="#1a1a1a" stroke-width="1.3"/>
<text transform="translate(502.2,296.38) rotate(90)" font-size="8.0" text-anchor="middle" fill="#222" font-family="'Liberation Sans', sans-serif">EM CD8</text>
<path d="M391.8 264.5H395.5" stroke="#1a1a1a" stroke-width="1"/>
<text transform="translate(389,267.5) scale(0.86,1)" font-size="8.6" text-anchor="end" fill="#262626" font-family="'Liberation Sans', sans-serif">600</text>
<path d="M391.8 286.4H395.5" stroke="#1a1a1a" stroke-width="1"/>
<text transform="translate(389,289.4) scale(0.86,1)" font-size="8.6" text-anchor="end" fill="#262626" font-family="'Liberation Sans', sans-serif">400</text>
<path d="M391.8 308.4H395.5" stroke="#1a1a1a" stroke-width="1"/>
<text transform="translate(389,311.4) scale(0.86,1)" font-size="8.6" text-anchor="end" fill="#262626" font-family="'Liberation Sans', sans-serif">200</text>
<path d="M391.8 330.2H395.5" stroke="#1a1a1a" stroke-width="1"/>
<text transform="translate(389,333.2) scale(0.86,1)" font-size="8.6" text-anchor="end" fill="#262626" font-family="'Liberation Sans', sans-serif">0</text>
<rect x="396.9" y="381.7" width="97.3" height="17.2" fill="#e5e5e5"/>
<clipPath id="cC4"><rect x="395.5" y="338" width="101.9" height="73"/></clipPath>
<g clip-path="url(#cC4)">
<path d="M400.2 380.5V400M398.7 380.5H401.7M398.7 400H401.7" stroke="#c8102e" stroke-opacity="0.7" stroke-width="1.05" fill="none"/>
<path d="M407.4 400.2V404.6M405.9 400.2H408.9M405.9 404.6H408.9" stroke="#c8102e" stroke-opacity="0.7" stroke-width="1.05" fill="none"/>
<path d="M415.4 376.9V401.3M413.9 376.9H416.9M413.9 401.3H416.9" stroke="#c8102e" stroke-opacity="0.7" stroke-width="1.05" fill="none"/>
<path d="M445.3 376.4V397.2M443.8 376.4H446.8M443.8 397.2H446.8" stroke="#c8102e" stroke-opacity="0.7" stroke-width="1.05" fill="none"/>
<path d="M491.7 363.4V388M490.2 363.4H493.2M490.2 388H493.2" stroke="#c8102e" stroke-opacity="0.7" stroke-width="1.05" fill="none"/>
<path d="M401.5 387.7V400.5M400 387.7H403M400 400.5H403" stroke="#17508c" stroke-opacity="0.7" stroke-width="1.05" fill="none"/>
<path d="M408.7 393.6V400.5M407.2 393.6H410.2M407.2 400.5H410.2" stroke="#17508c" stroke-opacity="0.7" stroke-width="1.05" fill="none"/>
<path d="M416.7 384.5V397.3M415.2 384.5H418.2M415.2 397.3H418.2" stroke="#17508c" stroke-opacity="0.7" stroke-width="1.05" fill="none"/>
<path d="M446.6 340.9V402.9M445.1 340.9H448.1M445.1 402.9H448.1" stroke="#17508c" stroke-opacity="0.7" stroke-width="1.05" fill="none"/>
<path d="M493 351.3V385.6M491.5 351.3H494.5M491.5 385.6H494.5" stroke="#17508c" stroke-opacity="0.7" stroke-width="1.05" fill="none"/>
<path d="M402.8 385.6V395.7M401.3 385.6H404.3M401.3 395.7H404.3" stroke="#33b24a" stroke-opacity="0.7" stroke-width="1.05" fill="none"/>
<path d="M410 406.3V407.5M408.5 406.3H411.5M408.5 407.5H411.5" stroke="#33b24a" stroke-opacity="0.7" stroke-width="1.05" fill="none"/>
<path d="M418 394.1V406.4M416.5 394.1H419.5M416.5 406.4H419.5" stroke="#33b24a" stroke-opacity="0.7" stroke-width="1.05" fill="none"/>
<path d="M447.9 378.7V399.4M446.4 378.7H449.4M446.4 399.4H449.4" stroke="#33b24a" stroke-opacity="0.7" stroke-width="1.05" fill="none"/>
<path d="M494.3 349.6V397.7M492.8 349.6H495.8M492.8 397.7H495.8" stroke="#33b24a" stroke-opacity="0.7" stroke-width="1.05" fill="none"/>
<polyline points="407.4,402.5 415.4,389.3 445.3,384.5 491.7,375.5" stroke="#c8102e" stroke-width="1.5" fill="none" stroke-linejoin="round"/>
<polyline points="408.7,397.3 416.7,390.3 446.6,372.1 493,368.6" stroke="#17508c" stroke-width="1.5" fill="none" stroke-linejoin="round"/>
<polyline points="410,406.9 418,398.6 447.9,389 494.3,373.8" stroke="#33b24a" stroke-width="1.5" fill="none" stroke-linejoin="round"/>
<circle cx="400.2" cy="390.4" r="1.6" fill="#c8102e"/>
<circle cx="407.4" cy="402.5" r="1.6" fill="#c8102e"/>
<circle cx="415.4" cy="389.3" r="1.6" fill="#c8102e"/>
<circle cx="445.3" cy="384.5" r="1.6" fill="#c8102e"/>
<circle cx="491.7" cy="375.5" r="1.6" fill="#c8102e"/>
<circle cx="401.5" cy="394.5" r="1.6" fill="#17508c"/>
<circle cx="408.7" cy="397.3" r="1.6" fill="#17508c"/>
<circle cx="416.7" cy="390.3" r="1.6" fill="#17508c"/>
<circle cx="446.6" cy="372.1" r="1.6" fill="#17508c"/>
<circle cx="493" cy="368.6" r="1.6" fill="#17508c"/>
<circle cx="402.8" cy="390.9" r="1.6" fill="#33b24a"/>
<circle cx="410" cy="406.9" r="1.6" fill="#33b24a"/>
<circle cx="418" cy="398.6" r="1.6" fill="#33b24a"/>
<circle cx="447.9" cy="389" r="1.6" fill="#33b24a"/>
<circle cx="494.3" cy="373.8" r="1.6" fill="#33b24a"/>
</g>
<circle cx="405.75" cy="344.7" r="1.1" fill="#1a1a1a"/>
<circle cx="409.2" cy="344.7" r="1.1" fill="#1a1a1a"/>
<circle cx="412.65" cy="344.7" r="1.1" fill="#1a1a1a"/>
<rect x="395.5" y="338" width="101.9" height="73" fill="none" stroke="#1a1a1a" stroke-width="1.3"/>
<rect x="497.4" y="338" width="15.4" height="73" fill="none" stroke="#1a1a1a" stroke-width="1.3"/>
<text transform="translate(502.2,374.5) rotate(90)" font-size="8.0" text-anchor="middle" fill="#222" font-family="'Liberation Sans', sans-serif">TEMRA CD8</text>
<path d="M391.8 345.5H395.5" stroke="#1a1a1a" stroke-width="1"/>
<text transform="translate(389,348.5) scale(0.86,1)" font-size="8.6" text-anchor="end" fill="#262626" font-family="'Liberation Sans', sans-serif">400</text>
<path d="M391.8 361.2H395.5" stroke="#1a1a1a" stroke-width="1"/>
<text transform="translate(389,364.2) scale(0.86,1)" font-size="8.6" text-anchor="end" fill="#262626" font-family="'Liberation Sans', sans-serif">300</text>
<path d="M391.8 376.4H395.5" stroke="#1a1a1a" stroke-width="1"/>
<text transform="translate(389,379.4) scale(0.86,1)" font-size="8.6" text-anchor="end" fill="#262626" font-family="'Liberation Sans', sans-serif">200</text>
<path d="M391.8 392H395.5" stroke="#1a1a1a" stroke-width="1"/>
<text transform="translate(389,395) scale(0.86,1)" font-size="8.6" text-anchor="end" fill="#262626" font-family="'Liberation Sans', sans-serif">100</text>
<path d="M391.8 407.4H395.5" stroke="#1a1a1a" stroke-width="1"/>
<text transform="translate(389,410.4) scale(0.86,1)" font-size="8.6" text-anchor="end" fill="#262626" font-family="'Liberation Sans', sans-serif">0</text>
<path d="M219.65 28.6H222.85" stroke="#222" stroke-width="0.9"/>
<path d="M219.65 30.3H222.85" stroke="#222" stroke-width="0.9"/>
<path d="M219.65 108.6H222.85" stroke="#222" stroke-width="0.9"/>
<path d="M219.65 110.4H222.85" stroke="#222" stroke-width="0.9"/>
<path d="M219.65 189.5H222.85" stroke="#222" stroke-width="0.9"/>
<path d="M219.65 191.3H222.85" stroke="#222" stroke-width="0.9"/>
<path d="M395.5 111.6H398.7" stroke="#222" stroke-width="0.9"/>
<path d="M395.5 113.4H398.7" stroke="#222" stroke-width="0.9"/>
<path d="M48.5 411.18V414.38" stroke="#1a1a1a" stroke-width="1"/>
<text transform="translate(50.85,416.98) rotate(-90)" font-size="8.1" text-anchor="end" textLength="12.1" lengthAdjust="spacingAndGlyphs" fill="#262626" font-family="'Liberation Sans', sans-serif">Pre</text>
<path d="M57.5 411.18V414.38" stroke="#1a1a1a" stroke-width="1"/>
<text transform="translate(59.85,416.98) rotate(-90)" font-size="8.1" text-anchor="end" textLength="25.2" lengthAdjust="spacingAndGlyphs" fill="#262626" font-family="'Liberation Sans', sans-serif">Day 28</text>
<path d="M66.4 411.18V414.38" stroke="#1a1a1a" stroke-width="1"/>
<text transform="translate(68.75,416.98) rotate(-90)" font-size="8.1" text-anchor="end" textLength="25.2" lengthAdjust="spacingAndGlyphs" fill="#262626" font-family="'Liberation Sans', sans-serif">Day 56</text>
<path d="M102.3 411.18V414.38" stroke="#1a1a1a" stroke-width="1"/>
<text transform="translate(104.65,416.98) rotate(-90)" font-size="8.1" text-anchor="end" textLength="29.5" lengthAdjust="spacingAndGlyphs" fill="#262626" font-family="'Liberation Sans', sans-serif">6 month</text>
<path d="M158.4 411.18V414.38" stroke="#1a1a1a" stroke-width="1"/>
<text transform="translate(160.75,416.98) rotate(-90)" font-size="8.1" text-anchor="end" textLength="12.9" lengthAdjust="spacingAndGlyphs" fill="#262626" font-family="'Liberation Sans', sans-serif">1 yr</text>
<path d="M227.3 411V414.2" stroke="#1a1a1a" stroke-width="1"/>
<text transform="translate(229.65,416.8) rotate(-90)" font-size="8.1" text-anchor="end" textLength="12.1" lengthAdjust="spacingAndGlyphs" fill="#262626" font-family="'Liberation Sans', sans-serif">Pre</text>
<path d="M236.4 411V414.2" stroke="#1a1a1a" stroke-width="1"/>
<text transform="translate(238.75,416.8) rotate(-90)" font-size="8.1" text-anchor="end" textLength="25.2" lengthAdjust="spacingAndGlyphs" fill="#262626" font-family="'Liberation Sans', sans-serif">Day 28</text>
<path d="M245.6 411V414.2" stroke="#1a1a1a" stroke-width="1"/>
<text transform="translate(247.95,416.8) rotate(-90)" font-size="8.1" text-anchor="end" textLength="25.2" lengthAdjust="spacingAndGlyphs" fill="#262626" font-family="'Liberation Sans', sans-serif">Day 56</text>
<path d="M283.4 411V414.2" stroke="#1a1a1a" stroke-width="1"/>
<text transform="translate(285.75,416.8) rotate(-90)" font-size="8.1" text-anchor="end" textLength="29.5" lengthAdjust="spacingAndGlyphs" fill="#262626" font-family="'Liberation Sans', sans-serif">6 month</text>
<path d="M340.8 411V414.2" stroke="#1a1a1a" stroke-width="1"/>
<text transform="translate(343.15,416.8) rotate(-90)" font-size="8.1" text-anchor="end" textLength="12.9" lengthAdjust="spacingAndGlyphs" fill="#262626" font-family="'Liberation Sans', sans-serif">1 yr</text>
<path d="M401 411V414.2" stroke="#1a1a1a" stroke-width="1"/>
<text transform="translate(403.35,416.8) rotate(-90)" font-size="8.1" text-anchor="end" textLength="12.1" lengthAdjust="spacingAndGlyphs" fill="#262626" font-family="'Liberation Sans', sans-serif">Pre</text>
<path d="M408.7 411V414.2" stroke="#1a1a1a" stroke-width="1"/>
<text transform="translate(411.05,416.8) rotate(-90)" font-size="8.1" text-anchor="end" textLength="25.2" lengthAdjust="spacingAndGlyphs" fill="#262626" font-family="'Liberation Sans', sans-serif">Day 28</text>
<path d="M416.7 411V414.2" stroke="#1a1a1a" stroke-width="1"/>
<text transform="translate(419.05,416.8) rotate(-90)" font-size="8.1" text-anchor="end" textLength="25.2" lengthAdjust="spacingAndGlyphs" fill="#262626" font-family="'Liberation Sans', sans-serif">Day 56</text>
<path d="M446.6 411V414.2" stroke="#1a1a1a" stroke-width="1"/>
<text transform="translate(448.95,416.8) rotate(-90)" font-size="8.1" text-anchor="end" textLength="29.5" lengthAdjust="spacingAndGlyphs" fill="#262626" font-family="'Liberation Sans', sans-serif">6 month</text>
<path d="M493 411V414.2" stroke="#1a1a1a" stroke-width="1"/>
<text transform="translate(495.35,416.8) rotate(-90)" font-size="8.1" text-anchor="end" textLength="12.9" lengthAdjust="spacingAndGlyphs" fill="#262626" font-family="'Liberation Sans', sans-serif">1 yr</text>
<text x="7.5" y="15.6" font-size="11" font-weight="bold" fill="#111" font-family="'Liberation Sans', sans-serif">A</text>
<text x="196.0" y="16.2" font-size="11" font-weight="bold" fill="#111" font-family="'Liberation Sans', sans-serif">B</text>
<text x="374.2" y="16.2" font-size="11" font-weight="bold" fill="#111" font-family="'Liberation Sans', sans-serif">C</text>
<text transform="translate(15.4,235.7) rotate(-90)" font-size="9.5" text-anchor="middle" fill="#222" font-family="'Liberation Sans', sans-serif">Cells/ul</text>
<text x="163.2" y="457.5" font-size="7.4" font-weight="bold" fill="#222" font-family="'Liberation Sans', sans-serif">IQR</text>
<rect x="163.8" y="464.2" width="9.6" height="15.8" fill="#e5e5e5" stroke="#333" stroke-width="1"/>
<text x="176.7" y="470.6" font-size="7.3" fill="#333" font-family="'Liberation Sans', sans-serif">Donors</text>
<text x="176.7" y="478.9" font-size="7.3" fill="#333" font-family="'Liberation Sans', sans-serif">(n = 27)</text>
<path d="M215 471.8H223.7" stroke="#c8102e" stroke-width="1.3"/>
<circle cx="219.35" cy="471.8" r="1.3" fill="#c8102e"/>
<text x="226.8" y="474.3" font-size="7.3" fill="#333" font-family="'Liberation Sans', sans-serif">MSD (n = 35)</text>
<path d="M279.5 471.8H288.2" stroke="#17508c" stroke-width="1.3"/>
<circle cx="283.85" cy="471.8" r="1.3" fill="#17508c"/>
<text x="291.3" y="474.3" font-size="7.3" fill="#333" font-family="'Liberation Sans', sans-serif">MUD (n = 40)</text>
<path d="M342.4 471.8H351.09999999999997" stroke="#33b24a" stroke-width="1.3"/>
<circle cx="346.75" cy="471.8" r="1.3" fill="#33b24a"/>
<text x="353.8" y="474.3" font-size="7.3" fill="#333" font-family="'Liberation Sans', sans-serif">Haplo (n = 70)</text>
<rect x="0" y="0" width="520" height="487" fill="none" stroke="#000" stroke-width="3"/>
</svg></body></html>
